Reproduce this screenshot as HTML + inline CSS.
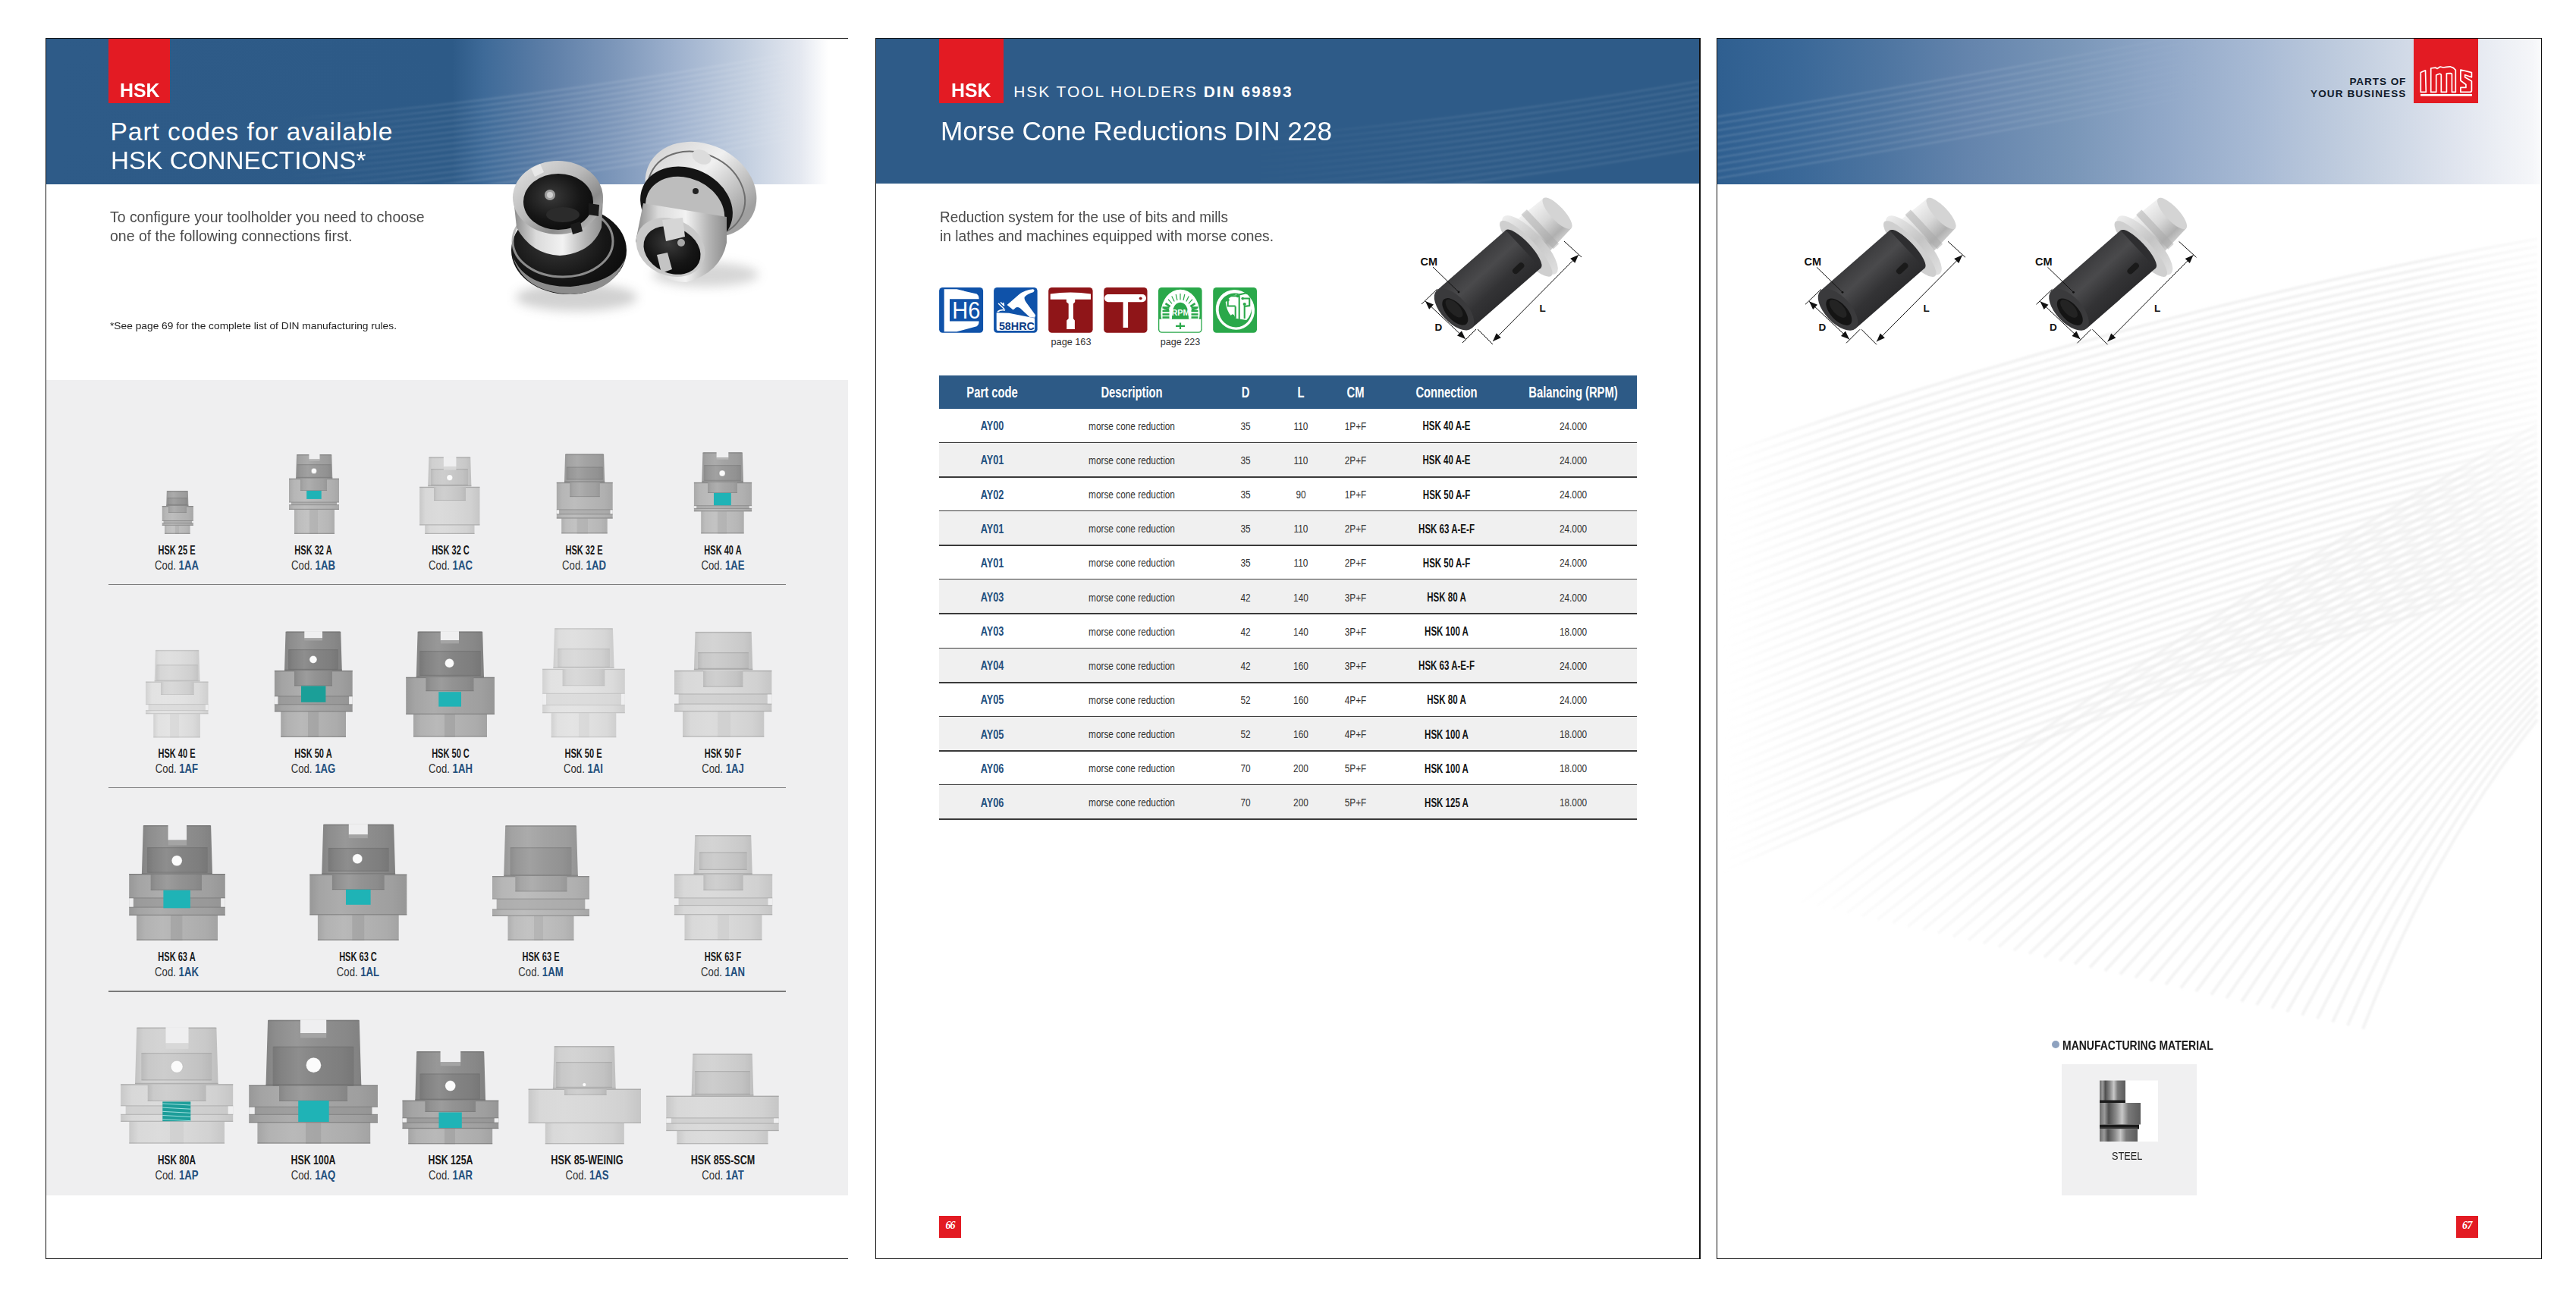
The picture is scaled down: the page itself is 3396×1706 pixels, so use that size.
<!DOCTYPE html>
<html><head><meta charset="utf-8"><title>HSK</title><style>
*{margin:0;padding:0;box-sizing:border-box}
html,body{width:3396px;height:1706px;overflow:hidden;background:#fff}
body{position:relative;font-family:"Liberation Sans",sans-serif}
.r{position:absolute}
.t{position:absolute;white-space:nowrap;line-height:1}
svg{position:absolute;overflow:visible}
</style></head>
<body>
<div class="r" style="left:61px;top:51px;width:1057px;height:191.5px;background:linear-gradient(90deg,#2e5b88 0px,#2d5a87 535px,#3e6a98 577px,#5e7fa8 664px,#7d97ba 750px,#a0b3cf 836px,#c3cfe0 922px,#e4e8f0 994px,#fff 1031px);"></div>
<div class="r" style="left:61px;top:500.5px;width:1057px;height:1075px;background:#efeff0;"></div>
<div class="r" style="left:142.5px;top:770.0px;width:893.5px;height:1.2px;background:#7a7a7a;"></div>
<div class="r" style="left:142.5px;top:1037.6px;width:893.5px;height:1.2px;background:#7a7a7a;"></div>
<div class="r" style="left:142.5px;top:1306.4px;width:893.5px;height:1.2px;background:#7a7a7a;"></div>
<div class="r" style="left:143px;top:50px;width:80.5px;height:85.7px;background:#e31b23;"></div>
<div class="r" style="left:60px;top:50px;width:1058px;height:1px;background:#111;"></div>
<div class="r" style="left:60px;top:1659px;width:1058px;height:1px;background:#111;"></div>
<div class="r" style="left:60px;top:50px;width:1px;height:1610px;background:#111;"></div>
<div class="r" style="left:1155px;top:51px;width:1085px;height:191px;background:#2e5b88;"></div>
<div class="r" style="left:1238px;top:50px;width:84.5px;height:86px;background:#e31b23;"></div>
<div class="r" style="left:1238.0px;top:495.0px;width:919.6999999999998px;height:43.60000000000002px;background:#2d5a86;"></div>
<div class="r" style="left:1238.0px;top:583px;width:919.6999999999998px;height:2px;background:#3a3a3a;"></div>
<div class="r" style="left:1238.0px;top:583.75px;width:919.6999999999998px;height:45.15px;background:#f0f0f0;"></div>
<div class="r" style="left:1238.0px;top:628px;width:919.6999999999998px;height:2px;background:#3a3a3a;"></div>
<div class="r" style="left:1238.0px;top:673px;width:919.6999999999998px;height:2px;background:#3a3a3a;"></div>
<div class="r" style="left:1238.0px;top:674.05px;width:919.6999999999998px;height:45.15px;background:#f0f0f0;"></div>
<div class="r" style="left:1238.0px;top:718px;width:919.6999999999998px;height:2px;background:#3a3a3a;"></div>
<div class="r" style="left:1238.0px;top:763px;width:919.6999999999998px;height:2px;background:#3a3a3a;"></div>
<div class="r" style="left:1238.0px;top:764.35px;width:919.6999999999998px;height:45.15px;background:#f0f0f0;"></div>
<div class="r" style="left:1238.0px;top:808px;width:919.6999999999998px;height:2px;background:#3a3a3a;"></div>
<div class="r" style="left:1238.0px;top:854px;width:919.6999999999998px;height:2px;background:#3a3a3a;"></div>
<div class="r" style="left:1238.0px;top:854.6500000000001px;width:919.6999999999998px;height:45.15px;background:#f0f0f0;"></div>
<div class="r" style="left:1238.0px;top:899px;width:919.6999999999998px;height:2px;background:#3a3a3a;"></div>
<div class="r" style="left:1238.0px;top:944px;width:919.6999999999998px;height:2px;background:#3a3a3a;"></div>
<div class="r" style="left:1238.0px;top:944.95px;width:919.6999999999998px;height:45.15px;background:#f0f0f0;"></div>
<div class="r" style="left:1238.0px;top:989px;width:919.6999999999998px;height:2px;background:#3a3a3a;"></div>
<div class="r" style="left:1238.0px;top:1034px;width:919.6999999999998px;height:2px;background:#3a3a3a;"></div>
<div class="r" style="left:1238.0px;top:1035.25px;width:919.6999999999998px;height:45.15px;background:#f0f0f0;"></div>
<div class="r" style="left:1238.0px;top:1079px;width:919.6999999999998px;height:2px;background:#3a3a3a;"></div>
<div class="r" style="left:1238.2px;top:1603.2px;width:28.6px;height:28.6px;background:#e31b23;"></div>
<div class="t" style="left:1238.2px;top:1609px;width:28.6px;text-align:center;font-family:'Liberation Serif',serif;font-size:14px;line-height:1;color:#fff;font-weight:700;font-style:italic;letter-spacing:-1px">66</div>
<div class="r" style="left:1154px;top:50px;width:1087px;height:1px;background:#111;"></div>
<div class="r" style="left:1154px;top:1659px;width:1087px;height:1px;background:#111;"></div>
<div class="r" style="left:1154px;top:50px;width:1px;height:1610px;background:#111;"></div>
<div class="r" style="left:2239.8px;top:50px;width:2px;height:1610px;background:#111;"></div>
<div class="r" style="left:2264px;top:51px;width:1086px;height:191.5px;background:linear-gradient(90deg,#2f5f90 0px,#3a6898 105px,#4c74a0 211px,#6585ad 337px,#7996b8 464px,#91a8c8 590px,#a9bbd5 717px,#c3cfe0 843px,#dfe4ee 970px,#f5f6f9 1075px,#fafbfc 1086px);"></div>
<div class="r" style="left:3182px;top:50px;width:85px;height:85.7px;background:#e31b23;"></div>
<div class="r" style="left:3238px;top:1603.2px;width:28.8px;height:28.6px;background:#e31b23;"></div>
<div class="t" style="left:3238px;top:1609px;width:28.8px;text-align:center;font-family:'Liberation Serif',serif;font-size:14px;line-height:1;color:#fff;font-weight:700;font-style:italic;letter-spacing:-0.5px">67</div>
<div class="r" style="left:2718px;top:1402.8px;width:178px;height:173px;background:#f0f0f1;"></div>
<div class="r" style="left:2704.7px;top:1371.9px;width:10px;height:10px;border-radius:50%;background:#8ea2bf"></div>
<div class="r" style="left:2263px;top:50px;width:1088px;height:1px;background:#111;"></div>
<div class="r" style="left:2263px;top:1659px;width:1088px;height:1px;background:#111;"></div>
<div class="r" style="left:2263px;top:50px;width:1px;height:1610px;background:#111;"></div>
<div class="r" style="left:3350px;top:50px;width:1.2px;height:1610px;background:#111;"></div>
<svg style="left:0;top:0" width="3396" height="1706" viewBox="0 0 3396 1706"><defs><clipPath id="h1c"><rect x="61" y="51" width="1057" height="191.5"/></clipPath><clipPath id="h2c"><rect x="1155" y="51" width="1085" height="191"/></clipPath><clipPath id="h3c"><rect x="2264" y="51" width="1086" height="191.5"/></clipPath><filter id="sblur" x="0" y="0" width="3396" height="1706" filterUnits="userSpaceOnUse"><feGaussianBlur stdDeviation="1.2"/></filter><linearGradient id="sg1" gradientUnits="userSpaceOnUse" x1="380" y1="0" x2="1060" y2="0"><stop offset="0" stop-color="#fff" stop-opacity="0"/><stop offset="0.4" stop-color="#fff" stop-opacity="0.11"/><stop offset="0.85" stop-color="#fff" stop-opacity="0.10"/><stop offset="1" stop-color="#fff" stop-opacity="0"/></linearGradient><linearGradient id="sg2" gradientUnits="userSpaceOnUse" x1="1650" y1="0" x2="2240" y2="0"><stop offset="0" stop-color="#fff" stop-opacity="0"/><stop offset="0.5" stop-color="#fff" stop-opacity="0.07"/><stop offset="1" stop-color="#fff" stop-opacity="0.07"/></linearGradient><linearGradient id="sg3" gradientUnits="userSpaceOnUse" x1="2264" y1="0" x2="2900" y2="0"><stop offset="0" stop-color="#fff" stop-opacity="0.12"/><stop offset="0.6" stop-color="#fff" stop-opacity="0.10"/><stop offset="1" stop-color="#fff" stop-opacity="0"/></linearGradient></defs><g clip-path="url(#h1c)"><g filter="url(#sblur)" fill="none" stroke="url(#sg1)" stroke-width="3"><path d="M380,270.0 Q700,245.0 1060,180.0"/><path d="M380,262.5 Q700,237.5 1060,172.5"/><path d="M380,255.0 Q700,230.0 1060,165.0"/><path d="M380,247.5 Q700,222.5 1060,157.5"/><path d="M380,240.0 Q700,215.0 1060,150.0"/><path d="M380,232.5 Q700,207.5 1060,142.5"/><path d="M380,225.0 Q700,200.0 1060,135.0"/><path d="M380,217.5 Q700,192.5 1060,127.5"/><path d="M380,210.0 Q700,185.0 1060,120.0"/><path d="M380,202.5 Q700,177.5 1060,112.5"/><path d="M380,195.0 Q700,170.0 1060,105.0"/><path d="M380,187.5 Q700,162.5 1060,97.5"/><path d="M380,180.0 Q700,155.0 1060,90.0"/><path d="M380,172.5 Q700,147.5 1060,82.5"/><path d="M380,165.0 Q700,140.0 1060,75.0"/><path d="M380,157.5 Q700,132.5 1060,67.5"/></g></g><g clip-path="url(#h2c)"><g filter="url(#sblur)" fill="none" stroke="url(#sg2)" stroke-width="3"><path d="M1650,270.0 Q1950,245.0 2240,195.0"/><path d="M1650,262.0 Q1950,237.0 2240,187.0"/><path d="M1650,254.0 Q1950,229.0 2240,179.0"/><path d="M1650,246.0 Q1950,221.0 2240,171.0"/><path d="M1650,238.0 Q1950,213.0 2240,163.0"/><path d="M1650,230.0 Q1950,205.0 2240,155.0"/><path d="M1650,222.0 Q1950,197.0 2240,147.0"/><path d="M1650,214.0 Q1950,189.0 2240,139.0"/><path d="M1650,206.0 Q1950,181.0 2240,131.0"/><path d="M1650,198.0 Q1950,173.0 2240,123.0"/><path d="M1650,190.0 Q1950,165.0 2240,115.0"/><path d="M1650,182.0 Q1950,157.0 2240,107.0"/></g></g><g clip-path="url(#h3c)"><g filter="url(#sblur)" fill="none" stroke="url(#sg3)" stroke-width="2.5"><path d="M2264,235.0 Q2550,190.0 2900,125.0"/><path d="M2264,226.0 Q2550,181.0 2900,116.0"/><path d="M2264,217.0 Q2550,172.0 2900,107.0"/><path d="M2264,208.0 Q2550,163.0 2900,98.0"/><path d="M2264,199.0 Q2550,154.0 2900,89.0"/><path d="M2264,190.0 Q2550,145.0 2900,80.0"/><path d="M2264,181.0 Q2550,136.0 2900,71.0"/><path d="M2264,172.0 Q2550,127.0 2900,62.0"/><path d="M2264,163.0 Q2550,118.0 2900,53.0"/><path d="M2264,154.0 Q2550,109.0 2900,44.0"/></g></g></svg><svg style="left:0;top:0" width="3396" height="1706" viewBox="0 0 3396 1706"><defs><clipPath id="p3clip"><rect x="2264" y="243" width="1085" height="1150"/></clipPath><linearGradient id="wfa" gradientUnits="userSpaceOnUse" x1="2270" y1="0" x2="3345" y2="0"><stop offset="0" stop-color="#ececec" stop-opacity="0"/><stop offset="0.15" stop-color="#ececec" stop-opacity="0.6"/><stop offset="0.85" stop-color="#ececec" stop-opacity="0.65"/><stop offset="1" stop-color="#ececec" stop-opacity="0.2"/></linearGradient><linearGradient id="wfb" gradientUnits="userSpaceOnUse" x1="2380" y1="1250" x2="3345" y2="600"><stop offset="0" stop-color="#ececec" stop-opacity="0"/><stop offset="0.25" stop-color="#ececec" stop-opacity="0.6"/><stop offset="0.9" stop-color="#ececec" stop-opacity="0.6"/><stop offset="1" stop-color="#ececec" stop-opacity="0.3"/></linearGradient><filter id="wblur" x="-5%" y="-5%" width="110%" height="110%"><feGaussianBlur stdDeviation="1.3"/></filter></defs><g clip-path="url(#p3clip)"><g filter="url(#wblur)" fill="none" stroke-width="4.2"><path d="M2270,600.0 Q2800,412.5 3345,315.0" stroke="url(#wfa)"/><path d="M2270,612.2 Q2800,423.6 3345,325.0" stroke="url(#wfa)"/><path d="M2270,624.4 Q2800,434.7 3345,335.0" stroke="url(#wfa)"/><path d="M2270,636.6 Q2800,445.8 3345,345.0" stroke="url(#wfa)"/><path d="M2270,648.8 Q2800,456.9 3345,355.0" stroke="url(#wfa)"/><path d="M2270,661.0 Q2800,468.0 3345,365.0" stroke="url(#wfa)"/><path d="M2270,673.2 Q2800,479.1 3345,375.0" stroke="url(#wfa)"/><path d="M2270,685.4 Q2800,490.2 3345,385.0" stroke="url(#wfa)"/><path d="M2270,697.6 Q2800,501.3 3345,395.0" stroke="url(#wfa)"/><path d="M2270,709.8 Q2800,512.4 3345,405.0" stroke="url(#wfa)"/><path d="M2270,722.0 Q2800,523.5 3345,415.0" stroke="url(#wfa)"/><path d="M2270,734.2 Q2800,534.6 3345,425.0" stroke="url(#wfa)"/><path d="M2270,746.4 Q2800,545.7 3345,435.0" stroke="url(#wfa)"/><path d="M2270,758.6 Q2800,556.8 3345,445.0" stroke="url(#wfa)"/><path d="M2270,770.8 Q2800,567.9 3345,455.0" stroke="url(#wfa)"/><path d="M2270,783.0 Q2800,579.0 3345,465.0" stroke="url(#wfa)"/><path d="M2270,795.2 Q2800,590.1 3345,475.0" stroke="url(#wfa)"/><path d="M2270,807.4 Q2800,601.2 3345,485.0" stroke="url(#wfa)"/><path d="M2270,819.6 Q2800,612.3 3345,495.0" stroke="url(#wfa)"/><path d="M2270,831.8 Q2800,623.4 3345,505.0" stroke="url(#wfa)"/><path d="M2270,844.0 Q2800,634.5 3345,515.0" stroke="url(#wfa)"/><path d="M2270,856.2 Q2800,645.6 3345,525.0" stroke="url(#wfa)"/><path d="M2270,868.4 Q2800,656.7 3345,535.0" stroke="url(#wfa)"/><path d="M2270,880.6 Q2800,667.8 3345,545.0" stroke="url(#wfa)"/><path d="M2270,892.8 Q2800,678.9 3345,555.0" stroke="url(#wfa)"/><path d="M2270,905.0 Q2800,690.0 3345,565.0" stroke="url(#wfa)"/><path d="M2270,917.2 Q2800,701.1 3345,575.0" stroke="url(#wfa)"/><path d="M2270,929.4 Q2800,712.2 3345,585.0" stroke="url(#wfa)"/><path d="M2270,941.6 Q2800,723.3 3345,595.0" stroke="url(#wfa)"/><path d="M2270,953.8 Q2800,734.4 3345,605.0" stroke="url(#wfa)"/><path d="M2270,966.0 Q2800,745.5 3345,615.0" stroke="url(#wfa)"/><path d="M2270,978.2 Q2800,756.6 3345,625.0" stroke="url(#wfa)"/><path d="M2270,990.4 Q2800,767.7 3345,635.0" stroke="url(#wfa)"/><path d="M2270,1002.6 Q2800,778.8 3345,645.0" stroke="url(#wfa)"/><path d="M2270,1014.8 Q2800,789.9 3345,655.0" stroke="url(#wfa)"/><path d="M2270,1027.0 Q2800,801.0 3345,665.0" stroke="url(#wfa)"/><path d="M2270,1039.2 Q2800,812.1 3345,675.0" stroke="url(#wfa)"/><path d="M2270,1051.4 Q2800,823.2 3345,685.0" stroke="url(#wfa)"/><path d="M2270,1063.6 Q2800,834.3 3345,695.0" stroke="url(#wfa)"/><path d="M2270,1075.8 Q2800,845.4 3345,705.0" stroke="url(#wfa)"/><path d="M2270,1088.0 Q2800,856.5 3345,715.0" stroke="url(#wfa)"/><path d="M2270,1100.2 Q2800,867.6 3345,725.0" stroke="url(#wfa)"/><path d="M2270,1112.4 Q2800,878.7 3345,735.0" stroke="url(#wfa)"/><path d="M2270,1124.6 Q2800,889.8 3345,745.0" stroke="url(#wfa)"/><path d="M2270,1136.8 Q2800,900.9 3345,755.0" stroke="url(#wfa)"/><path d="M2270,1149.0 Q2800,912.0 3345,765.0" stroke="url(#wfa)"/><path d="M2375.0,1190.0 Q2835.0,845.0 3345,560.0" stroke="url(#wfb)"/><path d="M2395.0,1194.5 Q2845.0,852.5 3345,570.5" stroke="url(#wfb)"/><path d="M2415.0,1199.0 Q2855.0,860.0 3345,581.0" stroke="url(#wfb)"/><path d="M2435.0,1203.5 Q2865.0,867.5 3345,591.5" stroke="url(#wfb)"/><path d="M2455.0,1208.0 Q2875.0,875.0 3345,602.0" stroke="url(#wfb)"/><path d="M2475.0,1212.5 Q2885.0,882.5 3345,612.5" stroke="url(#wfb)"/><path d="M2495.0,1217.0 Q2895.0,890.0 3345,623.0" stroke="url(#wfb)"/><path d="M2515.0,1221.5 Q2905.0,897.5 3345,633.5" stroke="url(#wfb)"/><path d="M2535.0,1226.0 Q2915.0,905.0 3345,644.0" stroke="url(#wfb)"/><path d="M2555.0,1230.5 Q2925.0,912.5 3345,654.5" stroke="url(#wfb)"/><path d="M2575.0,1235.0 Q2935.0,920.0 3345,665.0" stroke="url(#wfb)"/><path d="M2595.0,1239.5 Q2945.0,927.5 3345,675.5" stroke="url(#wfb)"/><path d="M2615.0,1244.0 Q2955.0,935.0 3345,686.0" stroke="url(#wfb)"/><path d="M2635.0,1248.5 Q2965.0,942.5 3345,696.5" stroke="url(#wfb)"/><path d="M2655.0,1253.0 Q2975.0,950.0 3345,707.0" stroke="url(#wfb)"/><path d="M2675.0,1257.5 Q2985.0,957.5 3345,717.5" stroke="url(#wfb)"/><path d="M2695.0,1262.0 Q2995.0,965.0 3345,728.0" stroke="url(#wfb)"/><path d="M2715.0,1266.5 Q3005.0,972.5 3345,738.5" stroke="url(#wfb)"/><path d="M2735.0,1271.0 Q3015.0,980.0 3345,749.0" stroke="url(#wfb)"/><path d="M2755.0,1275.5 Q3025.0,987.5 3345,759.5" stroke="url(#wfb)"/><path d="M2775.0,1280.0 Q3035.0,995.0 3345,770.0" stroke="url(#wfb)"/><path d="M2795.0,1284.5 Q3045.0,1002.5 3345,780.5" stroke="url(#wfb)"/><path d="M2815.0,1289.0 Q3055.0,1010.0 3345,791.0" stroke="url(#wfb)"/><path d="M2835.0,1293.5 Q3065.0,1017.5 3345,801.5" stroke="url(#wfb)"/><path d="M2855.0,1298.0 Q3075.0,1025.0 3345,812.0" stroke="url(#wfb)"/><path d="M2875.0,1302.5 Q3085.0,1032.5 3345,822.5" stroke="url(#wfb)"/><path d="M2895.0,1307.0 Q3095.0,1040.0 3345,833.0" stroke="url(#wfb)"/><path d="M2915.0,1311.5 Q3105.0,1047.5 3345,843.5" stroke="url(#wfb)"/><path d="M2935.0,1316.0 Q3115.0,1055.0 3345,854.0" stroke="url(#wfb)"/><path d="M2955.0,1320.5 Q3125.0,1062.5 3345,864.5" stroke="url(#wfb)"/><path d="M2975.0,1325.0 Q3135.0,1070.0 3345,875.0" stroke="url(#wfb)"/><path d="M2995.0,1329.5 Q3145.0,1077.5 3345,885.5" stroke="url(#wfb)"/><path d="M3015.0,1334.0 Q3155.0,1085.0 3345,896.0" stroke="url(#wfb)"/><path d="M3035.0,1338.5 Q3165.0,1092.5 3345,906.5" stroke="url(#wfb)"/><path d="M3055.0,1343.0 Q3175.0,1100.0 3345,917.0" stroke="url(#wfb)"/><path d="M3075.0,1347.5 Q3185.0,1107.5 3345,927.5" stroke="url(#wfb)"/><path d="M3095.0,1352.0 Q3195.0,1115.0 3345,938.0" stroke="url(#wfb)"/><path d="M3115.0,1356.5 Q3205.0,1122.5 3345,948.5" stroke="url(#wfb)"/></g></g></svg><svg style="left:0;top:0" width="3396" height="1706" viewBox="0 0 3396 1706"><defs><linearGradient id="g_dark_top" x1="0" x2="1" y1="0" y2="0"><stop offset="0" stop-color="#838383"/><stop offset="0.1" stop-color="#8d8d8d"/><stop offset="0.32" stop-color="#989898"/><stop offset="0.55" stop-color="#8f8f8f"/><stop offset="0.85" stop-color="#888888"/><stop offset="1" stop-color="#818181"/></linearGradient><linearGradient id="g_dark_band" x1="0" x2="1" y1="0" y2="0"><stop offset="0" stop-color="#787878"/><stop offset="0.1" stop-color="#828282"/><stop offset="0.32" stop-color="#8e8e8e"/><stop offset="0.55" stop-color="#848484"/><stop offset="0.85" stop-color="#7e7e7e"/><stop offset="1" stop-color="#777777"/></linearGradient><linearGradient id="g_dark_fl" x1="0" x2="1" y1="0" y2="0"><stop offset="0" stop-color="#989898"/><stop offset="0.1" stop-color="#a4a4a4"/><stop offset="0.32" stop-color="#adadad"/><stop offset="0.55" stop-color="#a5a5a5"/><stop offset="0.85" stop-color="#9f9f9f"/><stop offset="1" stop-color="#969696"/></linearGradient><linearGradient id="g_dark_inner" x1="0" x2="1" y1="0" y2="0"><stop offset="0" stop-color="#868686"/><stop offset="0.1" stop-color="#919191"/><stop offset="0.32" stop-color="#9c9c9c"/><stop offset="0.55" stop-color="#939393"/><stop offset="0.85" stop-color="#8c8c8c"/><stop offset="1" stop-color="#858585"/></linearGradient><linearGradient id="g_dark_bot" x1="0" x2="1" y1="0" y2="0"><stop offset="0" stop-color="#a5a5a5"/><stop offset="0.1" stop-color="#b2b2b2"/><stop offset="0.32" stop-color="#b9b9b9"/><stop offset="0.55" stop-color="#b3b3b3"/><stop offset="0.85" stop-color="#acacac"/><stop offset="1" stop-color="#a3a3a3"/></linearGradient><linearGradient id="g_mid_top" x1="0" x2="1" y1="0" y2="0"><stop offset="0" stop-color="#969696"/><stop offset="0.1" stop-color="#a2a2a2"/><stop offset="0.32" stop-color="#ababab"/><stop offset="0.55" stop-color="#a3a3a3"/><stop offset="0.85" stop-color="#9d9d9d"/><stop offset="1" stop-color="#959595"/></linearGradient><linearGradient id="g_mid_band" x1="0" x2="1" y1="0" y2="0"><stop offset="0" stop-color="#8c8c8c"/><stop offset="0.1" stop-color="#979797"/><stop offset="0.32" stop-color="#a1a1a1"/><stop offset="0.55" stop-color="#999999"/><stop offset="0.85" stop-color="#929292"/><stop offset="1" stop-color="#8a8a8a"/></linearGradient><linearGradient id="g_mid_fl" x1="0" x2="1" y1="0" y2="0"><stop offset="0" stop-color="#a9a9a9"/><stop offset="0.1" stop-color="#b6b6b6"/><stop offset="0.32" stop-color="#bdbdbd"/><stop offset="0.55" stop-color="#b7b7b7"/><stop offset="0.85" stop-color="#b0b0b0"/><stop offset="1" stop-color="#a7a7a7"/></linearGradient><linearGradient id="g_mid_inner" x1="0" x2="1" y1="0" y2="0"><stop offset="0" stop-color="#999999"/><stop offset="0.1" stop-color="#a5a5a5"/><stop offset="0.32" stop-color="#aeaeae"/><stop offset="0.55" stop-color="#a6a6a6"/><stop offset="0.85" stop-color="#a0a0a0"/><stop offset="1" stop-color="#979797"/></linearGradient><linearGradient id="g_mid_bot" x1="0" x2="1" y1="0" y2="0"><stop offset="0" stop-color="#afafaf"/><stop offset="0.1" stop-color="#bdbdbd"/><stop offset="0.32" stop-color="#c3c3c3"/><stop offset="0.55" stop-color="#bebebe"/><stop offset="0.85" stop-color="#b7b7b7"/><stop offset="1" stop-color="#adadad"/></linearGradient><linearGradient id="g_light_top" x1="0" x2="1" y1="0" y2="0"><stop offset="0" stop-color="#c1c1c1"/><stop offset="0.1" stop-color="#d0d0d0"/><stop offset="0.32" stop-color="#d4d4d4"/><stop offset="0.55" stop-color="#d0d0d0"/><stop offset="0.85" stop-color="#c9c9c9"/><stop offset="1" stop-color="#bfbfbf"/></linearGradient><linearGradient id="g_light_band" x1="0" x2="1" y1="0" y2="0"><stop offset="0" stop-color="#bababa"/><stop offset="0.1" stop-color="#c8c8c8"/><stop offset="0.32" stop-color="#cdcdcd"/><stop offset="0.55" stop-color="#c9c9c9"/><stop offset="0.85" stop-color="#c2c2c2"/><stop offset="1" stop-color="#b8b8b8"/></linearGradient><linearGradient id="g_light_fl" x1="0" x2="1" y1="0" y2="0"><stop offset="0" stop-color="#c8c8c8"/><stop offset="0.1" stop-color="#d8d8d8"/><stop offset="0.32" stop-color="#dbdbdb"/><stop offset="0.55" stop-color="#d8d8d8"/><stop offset="0.85" stop-color="#d1d1d1"/><stop offset="1" stop-color="#c6c6c6"/></linearGradient><linearGradient id="g_light_inner" x1="0" x2="1" y1="0" y2="0"><stop offset="0" stop-color="#bbbbbb"/><stop offset="0.1" stop-color="#cacaca"/><stop offset="0.32" stop-color="#cfcfcf"/><stop offset="0.55" stop-color="#cbcbcb"/><stop offset="0.85" stop-color="#c3c3c3"/><stop offset="1" stop-color="#b9b9b9"/></linearGradient><linearGradient id="g_light_bot" x1="0" x2="1" y1="0" y2="0"><stop offset="0" stop-color="#c9c9c9"/><stop offset="0.1" stop-color="#d9d9d9"/><stop offset="0.32" stop-color="#dcdcdc"/><stop offset="0.55" stop-color="#d9d9d9"/><stop offset="0.85" stop-color="#d2d2d2"/><stop offset="1" stop-color="#c7c7c7"/></linearGradient><linearGradient id="g_vlight_top" x1="0" x2="1" y1="0" y2="0"><stop offset="0" stop-color="#cdcdcd"/><stop offset="0.1" stop-color="#dddddd"/><stop offset="0.32" stop-color="#e0e0e0"/><stop offset="0.55" stop-color="#dddddd"/><stop offset="0.85" stop-color="#d6d6d6"/><stop offset="1" stop-color="#cbcbcb"/></linearGradient><linearGradient id="g_vlight_band" x1="0" x2="1" y1="0" y2="0"><stop offset="0" stop-color="#c7c7c7"/><stop offset="0.1" stop-color="#d6d6d6"/><stop offset="0.32" stop-color="#dadada"/><stop offset="0.55" stop-color="#d6d6d6"/><stop offset="0.85" stop-color="#cfcfcf"/><stop offset="1" stop-color="#c4c4c4"/></linearGradient><linearGradient id="g_vlight_fl" x1="0" x2="1" y1="0" y2="0"><stop offset="0" stop-color="#d2d2d2"/><stop offset="0.1" stop-color="#e2e2e2"/><stop offset="0.32" stop-color="#e4e4e4"/><stop offset="0.55" stop-color="#e2e2e2"/><stop offset="0.85" stop-color="#dbdbdb"/><stop offset="1" stop-color="#cfcfcf"/></linearGradient><linearGradient id="g_vlight_inner" x1="0" x2="1" y1="0" y2="0"><stop offset="0" stop-color="#c6c6c6"/><stop offset="0.1" stop-color="#d5d5d5"/><stop offset="0.32" stop-color="#d9d9d9"/><stop offset="0.55" stop-color="#d5d5d5"/><stop offset="0.85" stop-color="#cecece"/><stop offset="1" stop-color="#c3c3c3"/></linearGradient><linearGradient id="g_vlight_bot" x1="0" x2="1" y1="0" y2="0"><stop offset="0" stop-color="#d1d1d1"/><stop offset="0.1" stop-color="#e1e1e1"/><stop offset="0.32" stop-color="#e4e4e4"/><stop offset="0.55" stop-color="#e1e1e1"/><stop offset="0.85" stop-color="#dadada"/><stop offset="1" stop-color="#cfcfcf"/></linearGradient></defs><rect x="217" y="692" width="33.599999999999994" height="11.899999999999977" fill="url(#g_mid_bot)"/><rect x="231" y="667" width="5" height="36.89999999999998" fill="#ababab" opacity="0.55"/><rect x="217" y="702.6999999999999" width="33.599999999999994" height="1.2" fill="#7c7c7c" opacity="0.6"/><rect x="213.8" y="667" width="41.099999999999994" height="26" fill="url(#g_mid_fl)"/><rect x="213.8" y="667" width="41.099999999999994" height="1.3" fill="#7c7c7c" opacity="0.7"/><rect x="213.8" y="691.8" width="41.099999999999994" height="1.2" fill="#7c7c7c" opacity="0.6"/><rect x="213.8" y="686.6" width="1.8494999999999997" height="3.199999999999932" fill="#efeff0"/><rect x="253.0505" y="686.6" width="1.8494999999999997" height="3.199999999999932" fill="#efeff0"/><rect x="215.64950000000002" y="686.6" width="37.400999999999996" height="3.199999999999932" fill="#a5a5a5" opacity="0.5"/><rect x="213.8" y="686.0" width="41.099999999999994" height="1" fill="#7c7c7c" opacity="0.6"/><rect x="213.8" y="689.4" width="41.099999999999994" height="1" fill="#7c7c7c" opacity="0.6"/><rect x="222" y="667" width="24" height="9" fill="url(#g_mid_inner)"/><rect x="222" y="675" width="24" height="1" fill="#7c7c7c" opacity="0.5"/><path d="M221.284,647 L246.316,647 Q247.816,647 247.816,648.5 L248.4,667 L219.2,667 L219.784,648.5 Q219.784,647 221.284,647 Z" fill="url(#g_mid_top)"/><rect x="219.784" y="647" width="28.032000000000018" height="1.5" fill="#7c7c7c" opacity="0.55"/><rect x="220.5" y="656" width="26.5" height="10" rx="2" fill="url(#g_mid_band)"/><rect x="220.5" y="656" width="26.5" height="1.2" fill="#7c7c7c" opacity="0.5"/><rect x="220.5" y="664.8" width="26.5" height="1.2" fill="#7c7c7c" opacity="0.5"/><rect x="219.2" y="665.5" width="29.200000000000017" height="1.5" fill="#7c7c7c" opacity="0.6"/><rect x="388" y="671" width="53" height="32.89999999999998" fill="url(#g_mid_bot)"/><rect x="408" y="630.8" width="11" height="73.10000000000002" fill="#ababab" opacity="0.55"/><rect x="388" y="702.6999999999999" width="53" height="1.2" fill="#7c7c7c" opacity="0.6"/><rect x="381" y="630.8" width="66" height="41.200000000000045" fill="url(#g_mid_fl)"/><rect x="381" y="630.8" width="66" height="1.3" fill="#7c7c7c" opacity="0.7"/><rect x="381" y="670.8" width="66" height="1.2" fill="#7c7c7c" opacity="0.6"/><rect x="381" y="662.2" width="2.9699999999999998" height="3.2999999999999545" fill="#efeff0"/><rect x="444.03" y="662.2" width="2.9699999999999998" height="3.2999999999999545" fill="#efeff0"/><rect x="383.97" y="662.2" width="60.06" height="3.2999999999999545" fill="#a5a5a5" opacity="0.5"/><rect x="381" y="661.6" width="66" height="1" fill="#7c7c7c" opacity="0.6"/><rect x="381" y="665.1" width="66" height="1" fill="#7c7c7c" opacity="0.6"/><rect x="396" y="630.8" width="35" height="16.200000000000045" fill="url(#g_mid_inner)"/><rect x="396" y="646" width="35" height="1" fill="#7c7c7c" opacity="0.5"/><rect x="404.2" y="647" width="19.5" height="10.899999999999977" fill="#1fb3b6"/><path d="M392.466,599 L435.834,599 Q437.334,599 437.334,600.5 L438.3,630.8 L390,630.8 L390.966,600.5 Q390.966,599 392.466,599 Z" fill="url(#g_mid_top)"/><rect x="390.966" y="599" width="46.36800000000001" height="1.5" fill="#7c7c7c" opacity="0.55"/><rect x="391.5" y="612" width="45.5" height="18" rx="2" fill="url(#g_mid_band)"/><rect x="391.5" y="612" width="45.5" height="1.2" fill="#7c7c7c" opacity="0.5"/><rect x="391.5" y="628.8" width="45.5" height="1.2" fill="#7c7c7c" opacity="0.5"/><rect x="390" y="629.3" width="48.30000000000001" height="1.5" fill="#7c7c7c" opacity="0.6"/><rect x="407.4" y="598.5" width="14.100000000000023" height="6.899999999999977" fill="#efeff0"/><rect x="407.4" y="605.4" width="14.100000000000023" height="2.2399999999999918" fill="#b6b6b6"/><circle cx="413.9" cy="620.9" r="3.6" fill="#fbfbfb" stroke="#7c7c7c" stroke-width="0.6" stroke-opacity="0.5"/><rect x="560.2" y="691.5" width="65.29999999999995" height="12.5" fill="url(#g_light_bot)"/><rect x="560.2" y="702.8" width="65.29999999999995" height="1.2" fill="#9a9a9a" opacity="0.6"/><rect x="553.1" y="641.8" width="79.39999999999998" height="50.700000000000045" fill="url(#g_light_fl)"/><rect x="553.1" y="641.8" width="79.39999999999998" height="1.3" fill="#9a9a9a" opacity="0.7"/><rect x="553.1" y="691.3" width="79.39999999999998" height="1.2" fill="#9a9a9a" opacity="0.6"/><rect x="572" y="641.8" width="42" height="18.200000000000045" fill="url(#g_light_inner)"/><rect x="572" y="659" width="42" height="1" fill="#9a9a9a" opacity="0.5"/><path d="M566.844,602.6 L618.756,602.6 Q620.256,602.6 620.256,604.1 L621.4,641.3 L564.2,641.3 L565.344,604.1 Q565.344,602.6 566.844,602.6 Z" fill="url(#g_light_top)"/><rect x="565.344" y="602.6" width="54.911999999999935" height="1.5" fill="#9a9a9a" opacity="0.55"/><rect x="568" y="618" width="49" height="22" rx="2" fill="url(#g_light_band)"/><rect x="568" y="618" width="49" height="1.2" fill="#9a9a9a" opacity="0.5"/><rect x="568" y="638.8" width="49" height="1.2" fill="#9a9a9a" opacity="0.5"/><rect x="564.2" y="639.8" width="57.19999999999993" height="1.5" fill="#9a9a9a" opacity="0.6"/><rect x="584.8" y="602.1" width="16.600000000000023" height="13.100000000000023" fill="#efeff0"/><rect x="584.8" y="615.2" width="16.600000000000023" height="4.410000000000007" fill="#d8d8d8"/><circle cx="592.8" cy="629.7" r="4" fill="#fbfbfb" stroke="#9a9a9a" stroke-width="0.6" stroke-opacity="0.5"/><rect x="740.2" y="682.6" width="60.5" height="20.799999999999955" fill="url(#g_mid_bot)"/><rect x="760.6" y="635.9" width="14.399999999999977" height="67.5" fill="#ababab" opacity="0.55"/><rect x="740.2" y="702.1999999999999" width="60.5" height="1.2" fill="#7c7c7c" opacity="0.6"/><rect x="733.8" y="635.9" width="73.90000000000009" height="47.700000000000045" fill="url(#g_mid_fl)"/><rect x="733.8" y="635.9" width="73.90000000000009" height="1.3" fill="#7c7c7c" opacity="0.7"/><rect x="733.8" y="682.4" width="73.90000000000009" height="1.2" fill="#7c7c7c" opacity="0.6"/><rect x="733.8" y="672" width="3.325500000000004" height="5.7999999999999545" fill="#efeff0"/><rect x="804.3745" y="672" width="3.325500000000004" height="5.7999999999999545" fill="#efeff0"/><rect x="737.1255" y="672" width="67.24900000000008" height="5.7999999999999545" fill="#a5a5a5" opacity="0.5"/><rect x="733.8" y="671.4" width="73.90000000000009" height="1" fill="#7c7c7c" opacity="0.6"/><rect x="733.8" y="677.4" width="73.90000000000009" height="1" fill="#7c7c7c" opacity="0.6"/><rect x="751.2" y="635.9" width="39.59999999999991" height="19.200000000000045" fill="url(#g_mid_inner)"/><rect x="751.2" y="654.1" width="39.59999999999991" height="1" fill="#7c7c7c" opacity="0.5"/><path d="M746.564,598.6 L794.6360000000001,598.6 Q796.1360000000001,598.6 796.1360000000001,600.1 L797.2,635.9 L744,635.9 L745.064,600.1 Q745.064,598.6 746.564,598.6 Z" fill="url(#g_mid_top)"/><rect x="745.064" y="598.6" width="51.072000000000045" height="1.5" fill="#7c7c7c" opacity="0.55"/><rect x="746.6" y="615.5" width="48.39999999999998" height="16.899999999999977" rx="2" fill="url(#g_mid_band)"/><rect x="746.6" y="615.5" width="48.39999999999998" height="1.2" fill="#7c7c7c" opacity="0.5"/><rect x="746.6" y="631.1999999999999" width="48.39999999999998" height="1.2" fill="#7c7c7c" opacity="0.5"/><rect x="744" y="634.4" width="53.200000000000045" height="1.5" fill="#7c7c7c" opacity="0.6"/><rect x="924.2" y="673.3" width="56.5" height="30.100000000000023" fill="url(#g_mid_bot)"/><rect x="946" y="635.9" width="12" height="67.5" fill="#ababab" opacity="0.55"/><rect x="924.2" y="702.1999999999999" width="56.5" height="1.2" fill="#7c7c7c" opacity="0.6"/><rect x="914.9" y="635.9" width="76.20000000000005" height="38.39999999999998" fill="url(#g_mid_fl)"/><rect x="914.9" y="635.9" width="76.20000000000005" height="1.3" fill="#7c7c7c" opacity="0.7"/><rect x="914.9" y="673.0999999999999" width="76.20000000000005" height="1.2" fill="#7c7c7c" opacity="0.6"/><rect x="914.9" y="666.8" width="3.429000000000002" height="3.5" fill="#efeff0"/><rect x="987.671" y="666.8" width="3.429000000000002" height="3.5" fill="#efeff0"/><rect x="918.329" y="666.8" width="69.34200000000004" height="3.5" fill="#a5a5a5" opacity="0.5"/><rect x="914.9" y="666.1999999999999" width="76.20000000000005" height="1" fill="#7c7c7c" opacity="0.6"/><rect x="914.9" y="669.9" width="76.20000000000005" height="1" fill="#7c7c7c" opacity="0.6"/><rect x="933" y="635.9" width="39" height="14.100000000000023" fill="url(#g_mid_inner)"/><rect x="933" y="649" width="39" height="1" fill="#7c7c7c" opacity="0.5"/><rect x="941" y="649.9" width="22.799999999999955" height="16.300000000000068" fill="#1fb3b6"/><path d="M927.894,596.3 L977.406,596.3 Q978.906,596.3 978.906,597.8 L980,635.9 L925.3,635.9 L926.394,597.8 Q926.394,596.3 927.894,596.3 Z" fill="url(#g_mid_top)"/><rect x="926.394" y="596.3" width="52.51200000000004" height="1.5" fill="#7c7c7c" opacity="0.55"/><rect x="928" y="613" width="49" height="21" rx="2" fill="url(#g_mid_band)"/><rect x="928" y="613" width="49" height="1.2" fill="#7c7c7c" opacity="0.5"/><rect x="928" y="632.8" width="49" height="1.2" fill="#7c7c7c" opacity="0.5"/><rect x="925.3" y="634.4" width="54.700000000000045" height="1.5" fill="#7c7c7c" opacity="0.6"/><rect x="944.6" y="595.8" width="15.699999999999932" height="7.5" fill="#efeff0"/><rect x="944.6" y="603.3" width="15.699999999999932" height="2.4499999999999997" fill="#b6b6b6"/><circle cx="952.1" cy="624" r="4" fill="#fbfbfb" stroke="#7c7c7c" stroke-width="0.6" stroke-opacity="0.5"/><rect x="202.3" y="940.3" width="61.599999999999966" height="32.10000000000002" fill="url(#g_vlight_bot)"/><rect x="224" y="898.6" width="12" height="73.79999999999995" fill="#d3d3d3" opacity="0.55"/><rect x="202.3" y="971.1999999999999" width="61.599999999999966" height="1.2" fill="#b5b5b5" opacity="0.6"/><rect x="192" y="898.6" width="82.5" height="42.69999999999993" fill="url(#g_vlight_fl)"/><rect x="192" y="898.6" width="82.5" height="1.3" fill="#b5b5b5" opacity="0.7"/><rect x="192" y="940.0999999999999" width="82.5" height="1.2" fill="#b5b5b5" opacity="0.6"/><rect x="192" y="928.7" width="3.7125" height="7.7999999999999545" fill="#efeff0"/><rect x="270.7875" y="928.7" width="3.7125" height="7.7999999999999545" fill="#efeff0"/><rect x="195.7125" y="928.7" width="75.075" height="7.7999999999999545" fill="#d5d5d5" opacity="0.5"/><rect x="192" y="928.1" width="82.5" height="1" fill="#b5b5b5" opacity="0.6"/><rect x="192" y="936.1" width="82.5" height="1" fill="#b5b5b5" opacity="0.6"/><rect x="212" y="898.6" width="43.69999999999999" height="17.399999999999977" fill="url(#g_vlight_inner)"/><rect x="212" y="915" width="43.69999999999999" height="1" fill="#b5b5b5" opacity="0.5"/><path d="M206.396,856.9 L260.804,856.9 Q262.304,856.9 262.304,858.4 L263.5,898.6 L203.7,898.6 L204.896,858.4 Q204.896,856.9 206.396,856.9 Z" fill="url(#g_vlight_top)"/><rect x="204.896" y="856.9" width="57.40800000000001" height="1.5" fill="#b5b5b5" opacity="0.55"/><rect x="206" y="876.3" width="55" height="21.300000000000068" rx="2" fill="url(#g_vlight_band)"/><rect x="206" y="876.3" width="55" height="1.2" fill="#b5b5b5" opacity="0.5"/><rect x="206" y="896.4" width="55" height="1.2" fill="#b5b5b5" opacity="0.5"/><rect x="203.7" y="897.1" width="59.80000000000001" height="1.5" fill="#b5b5b5" opacity="0.6"/><rect x="370.2" y="937.4" width="85.80000000000001" height="34.39999999999998" fill="url(#g_dark_bot)"/><rect x="406" y="884" width="14" height="87.79999999999995" fill="#9a9a9a" opacity="0.55"/><rect x="370.2" y="970.5999999999999" width="85.80000000000001" height="1.2" fill="#6e6e6e" opacity="0.6"/><rect x="361.9" y="884" width="102.80000000000001" height="54.39999999999998" fill="url(#g_dark_fl)"/><rect x="361.9" y="884" width="102.80000000000001" height="1.3" fill="#6e6e6e" opacity="0.7"/><rect x="361.9" y="937.1999999999999" width="102.80000000000001" height="1.2" fill="#6e6e6e" opacity="0.6"/><rect x="361.9" y="918" width="4.626" height="10.700000000000045" fill="#efeff0"/><rect x="460.074" y="918" width="4.626" height="10.700000000000045" fill="#efeff0"/><rect x="366.52599999999995" y="918" width="93.54800000000002" height="10.700000000000045" fill="#919191" opacity="0.5"/><rect x="361.9" y="917.4" width="102.80000000000001" height="1" fill="#6e6e6e" opacity="0.6"/><rect x="361.9" y="928.3000000000001" width="102.80000000000001" height="1" fill="#6e6e6e" opacity="0.6"/><rect x="388" y="884" width="50" height="20.399999999999977" fill="url(#g_dark_inner)"/><rect x="388" y="903.4" width="50" height="1" fill="#6e6e6e" opacity="0.5"/><rect x="397" y="904.4" width="32.39999999999998" height="21.399999999999977" fill="#1b9f98"/><path d="M378.016,832.6 L447.784,832.6 Q449.284,832.6 449.284,834.1 L450.8,884 L375,884 L376.516,834.1 Q376.516,832.6 378.016,832.6 Z" fill="url(#g_dark_top)"/><rect x="376.516" y="832.6" width="72.76800000000001" height="1.5" fill="#6e6e6e" opacity="0.55"/><rect x="380" y="856" width="66" height="27" rx="2" fill="url(#g_dark_band)"/><rect x="380" y="856" width="66" height="1.2" fill="#6e6e6e" opacity="0.5"/><rect x="380" y="881.8" width="66" height="1.2" fill="#6e6e6e" opacity="0.5"/><rect x="375" y="882.5" width="75.80000000000001" height="1.5" fill="#6e6e6e" opacity="0.6"/><rect x="401.3" y="832.1" width="23.69999999999999" height="9.299999999999955" fill="#efeff0"/><rect x="401.3" y="841.4" width="23.69999999999999" height="3.079999999999984" fill="#a4a4a4"/><circle cx="412.9" cy="869.5" r="5" fill="#fbfbfb" stroke="#6e6e6e" stroke-width="0.6" stroke-opacity="0.5"/><rect x="545" y="940.9" width="97" height="30.5" fill="url(#g_dark_bot)"/><rect x="586" y="892.8" width="14" height="78.60000000000002" fill="#9a9a9a" opacity="0.55"/><rect x="545" y="970.1999999999999" width="97" height="1.2" fill="#6e6e6e" opacity="0.6"/><rect x="535.2" y="892.8" width="116.79999999999995" height="49.10000000000002" fill="url(#g_dark_fl)"/><rect x="535.2" y="892.8" width="116.79999999999995" height="1.3" fill="#6e6e6e" opacity="0.7"/><rect x="535.2" y="940.6999999999999" width="116.79999999999995" height="1.2" fill="#6e6e6e" opacity="0.6"/><rect x="561.4" y="892.8" width="63.10000000000002" height="18.40000000000009" fill="url(#g_dark_inner)"/><rect x="561.4" y="910.2" width="63.10000000000002" height="1" fill="#6e6e6e" opacity="0.5"/><rect x="578.3" y="912.2" width="29.700000000000045" height="19.399999999999977" fill="#1fb3b6"/><path d="M552.084,832.6 L634.716,832.6 Q636.216,832.6 636.216,834.1 L638,892.8 L548.8,892.8 L550.584,834.1 Q550.584,832.6 552.084,832.6 Z" fill="url(#g_dark_top)"/><rect x="550.584" y="832.6" width="85.63200000000005" height="1.5" fill="#6e6e6e" opacity="0.55"/><rect x="553" y="858" width="81" height="33" rx="2" fill="url(#g_dark_band)"/><rect x="553" y="858" width="81" height="1.2" fill="#6e6e6e" opacity="0.5"/><rect x="553" y="889.8" width="81" height="1.2" fill="#6e6e6e" opacity="0.5"/><rect x="548.8" y="891.3" width="89.20000000000005" height="1.5" fill="#6e6e6e" opacity="0.6"/><rect x="580.8" y="832.1" width="24.200000000000045" height="12.199999999999932" fill="#efeff0"/><rect x="580.8" y="844.3" width="24.200000000000045" height="4.094999999999976" fill="#a4a4a4"/><circle cx="592.5" cy="874.3" r="6" fill="#fbfbfb" stroke="#6e6e6e" stroke-width="0.6" stroke-opacity="0.5"/><rect x="726.7" y="939.2" width="85.59999999999991" height="33.0" fill="url(#g_vlight_bot)"/><rect x="763" y="881.8" width="14" height="90.40000000000009" fill="#d3d3d3" opacity="0.55"/><rect x="726.7" y="971.0" width="85.59999999999991" height="1.2" fill="#b5b5b5" opacity="0.6"/><rect x="715.1" y="881.8" width="108.69999999999993" height="58.40000000000009" fill="url(#g_vlight_fl)"/><rect x="715.1" y="881.8" width="108.69999999999993" height="1.3" fill="#b5b5b5" opacity="0.7"/><rect x="715.1" y="939.0" width="108.69999999999993" height="1.2" fill="#b5b5b5" opacity="0.6"/><rect x="715.1" y="914.4" width="4.891499999999997" height="15.0" fill="#efeff0"/><rect x="818.9085" y="914.4" width="4.891499999999997" height="15.0" fill="#efeff0"/><rect x="719.9915" y="914.4" width="98.91699999999994" height="15.0" fill="#d5d5d5" opacity="0.5"/><rect x="715.1" y="913.8" width="108.69999999999993" height="1" fill="#b5b5b5" opacity="0.6"/><rect x="715.1" y="929.0" width="108.69999999999993" height="1" fill="#b5b5b5" opacity="0.6"/><rect x="741.6" y="881.8" width="55.69999999999993" height="22.40000000000009" fill="url(#g_vlight_inner)"/><rect x="741.6" y="903.2" width="55.69999999999993" height="1" fill="#b5b5b5" opacity="0.5"/><path d="M732.504,828.2 L806.496,828.2 Q807.996,828.2 807.996,829.7 L809.6,881.1 L729.4,881.1 L731.004,829.7 Q731.004,828.2 732.504,828.2 Z" fill="url(#g_vlight_top)"/><rect x="731.004" y="828.2" width="76.99200000000005" height="1.5" fill="#b5b5b5" opacity="0.55"/><rect x="735" y="855" width="69" height="25" rx="2" fill="url(#g_vlight_band)"/><rect x="735" y="855" width="69" height="1.2" fill="#b5b5b5" opacity="0.5"/><rect x="735" y="878.8" width="69" height="1.2" fill="#b5b5b5" opacity="0.5"/><rect x="729.4" y="879.6" width="80.20000000000005" height="1.5" fill="#b5b5b5" opacity="0.6"/><rect x="900" y="937.2" width="107.29999999999995" height="34.299999999999955" fill="url(#g_light_bot)"/><rect x="946" y="883.9" width="17" height="87.60000000000002" fill="#cbcbcb" opacity="0.55"/><rect x="900" y="970.3" width="107.29999999999995" height="1.2" fill="#9a9a9a" opacity="0.6"/><rect x="889" y="883.9" width="128.39999999999998" height="54.30000000000007" fill="url(#g_light_fl)"/><rect x="889" y="883.9" width="128.39999999999998" height="1.3" fill="#9a9a9a" opacity="0.7"/><rect x="889" y="937.0" width="128.39999999999998" height="1.2" fill="#9a9a9a" opacity="0.6"/><rect x="889" y="915.1" width="5.777999999999999" height="12.899999999999977" fill="#efeff0"/><rect x="1011.622" y="915.1" width="5.777999999999999" height="12.899999999999977" fill="#efeff0"/><rect x="894.778" y="915.1" width="116.84399999999998" height="12.899999999999977" fill="#cacaca" opacity="0.5"/><rect x="889" y="914.5" width="128.39999999999998" height="1" fill="#9a9a9a" opacity="0.6"/><rect x="889" y="927.6" width="128.39999999999998" height="1" fill="#9a9a9a" opacity="0.6"/><rect x="927.1" y="883.9" width="52.299999999999955" height="21.700000000000045" fill="url(#g_light_inner)"/><rect x="927.1" y="904.6" width="52.299999999999955" height="1" fill="#9a9a9a" opacity="0.5"/><path d="M917.948,832.9 L989.252,832.9 Q990.752,832.9 990.752,834.4 L992.3,883.2 L914.9,883.2 L916.448,834.4 Q916.448,832.9 917.948,832.9 Z" fill="url(#g_light_top)"/><rect x="916.448" y="832.9" width="74.30399999999997" height="1.5" fill="#9a9a9a" opacity="0.55"/><rect x="920" y="860" width="67" height="22" rx="2" fill="url(#g_light_band)"/><rect x="920" y="860" width="67" height="1.2" fill="#9a9a9a" opacity="0.5"/><rect x="920" y="880.8" width="67" height="1.2" fill="#9a9a9a" opacity="0.5"/><rect x="914.9" y="881.7" width="77.39999999999998" height="1.5" fill="#9a9a9a" opacity="0.6"/><rect x="180" y="1206" width="107" height="33.700000000000045" fill="url(#g_dark_bot)"/><rect x="225" y="1152" width="15.400000000000006" height="87.70000000000005" fill="#9a9a9a" opacity="0.55"/><rect x="180" y="1238.5" width="107" height="1.2" fill="#6e6e6e" opacity="0.6"/><rect x="170.2" y="1152" width="126.60000000000002" height="55" fill="url(#g_dark_fl)"/><rect x="170.2" y="1152" width="126.60000000000002" height="1.3" fill="#6e6e6e" opacity="0.7"/><rect x="170.2" y="1205.8" width="126.60000000000002" height="1.2" fill="#6e6e6e" opacity="0.6"/><rect x="170.2" y="1184" width="5.697000000000001" height="12" fill="#efeff0"/><rect x="291.103" y="1184" width="5.697000000000001" height="12" fill="#efeff0"/><rect x="175.897" y="1184" width="115.20600000000002" height="12" fill="#919191" opacity="0.5"/><rect x="170.2" y="1183.4" width="126.60000000000002" height="1" fill="#6e6e6e" opacity="0.6"/><rect x="170.2" y="1195.6" width="126.60000000000002" height="1" fill="#6e6e6e" opacity="0.6"/><rect x="198.7" y="1152" width="67.30000000000001" height="21.59999999999991" fill="url(#g_dark_inner)"/><rect x="198.7" y="1172.6" width="67.30000000000001" height="1" fill="#6e6e6e" opacity="0.5"/><rect x="215.4" y="1173.6" width="35.5" height="23.700000000000045" fill="#1fb3b6"/><path d="M190.262,1088 L276.638,1088 Q278.138,1088 278.138,1089.5 L280,1152.8 L186.9,1152.8 L188.762,1089.5 Q188.762,1088 190.262,1088 Z" fill="url(#g_dark_top)"/><rect x="188.762" y="1088" width="89.37599999999999" height="1.5" fill="#6e6e6e" opacity="0.55"/><rect x="193.8" y="1117" width="80.0" height="33.700000000000045" rx="2" fill="url(#g_dark_band)"/><rect x="193.8" y="1117" width="80.0" height="1.2" fill="#6e6e6e" opacity="0.5"/><rect x="193.8" y="1149.5" width="80.0" height="1.2" fill="#6e6e6e" opacity="0.5"/><rect x="186.9" y="1151.3" width="93.1" height="1.5" fill="#6e6e6e" opacity="0.6"/><rect x="221.6" y="1087.5" width="24.400000000000006" height="20.09999999999991" fill="#efeff0"/><rect x="221.6" y="1107.6" width="24.400000000000006" height="6.8599999999999675" fill="#a4a4a4"/><circle cx="233.2" cy="1134.7" r="7" fill="#fbfbfb" stroke="#6e6e6e" stroke-width="0.6" stroke-opacity="0.5"/><rect x="418.9" y="1205.4" width="106.80000000000007" height="34.299999999999955" fill="url(#g_dark_bot)"/><rect x="464.3" y="1152.7" width="15.899999999999977" height="87.0" fill="#9a9a9a" opacity="0.55"/><rect x="418.9" y="1238.5" width="106.80000000000007" height="1.2" fill="#6e6e6e" opacity="0.6"/><rect x="408.3" y="1152.7" width="127.99999999999994" height="53.700000000000045" fill="url(#g_dark_fl)"/><rect x="408.3" y="1152.7" width="127.99999999999994" height="1.3" fill="#6e6e6e" opacity="0.7"/><rect x="408.3" y="1205.2" width="127.99999999999994" height="1.2" fill="#6e6e6e" opacity="0.6"/><rect x="437.9" y="1152.7" width="68.80000000000001" height="20.399999999999864" fill="url(#g_dark_inner)"/><rect x="437.9" y="1172.1" width="68.80000000000001" height="1" fill="#6e6e6e" opacity="0.5"/><rect x="456" y="1172.7" width="32.60000000000002" height="20.09999999999991" fill="#1fb3b6"/><path d="M427.638,1086.8 L517.662,1086.8 Q519.162,1086.8 519.162,1088.3 L521.1,1152.7 L424.2,1152.7 L426.138,1088.3 Q426.138,1086.8 427.638,1086.8 Z" fill="url(#g_dark_top)"/><rect x="426.138" y="1086.8" width="93.02400000000003" height="1.5" fill="#6e6e6e" opacity="0.55"/><rect x="432.6" y="1117.9" width="80.19999999999993" height="31.0" rx="2" fill="url(#g_dark_band)"/><rect x="432.6" y="1117.9" width="80.19999999999993" height="1.2" fill="#6e6e6e" opacity="0.5"/><rect x="432.6" y="1147.7" width="80.19999999999993" height="1.2" fill="#6e6e6e" opacity="0.5"/><rect x="424.2" y="1151.2" width="96.90000000000003" height="1.5" fill="#6e6e6e" opacity="0.6"/><rect x="459.8" y="1086.3" width="25.0" height="14.100000000000136" fill="#efeff0"/><rect x="459.8" y="1100.4" width="25.0" height="4.760000000000048" fill="#a4a4a4"/><circle cx="471.2" cy="1132.2" r="6.5" fill="#fbfbfb" stroke="#6e6e6e" stroke-width="0.6" stroke-opacity="0.5"/><rect x="669.5" y="1206.9" width="87.0" height="32.799999999999955" fill="url(#g_mid_bot)"/><rect x="704" y="1155" width="12" height="84.70000000000005" fill="#ababab" opacity="0.55"/><rect x="669.5" y="1238.5" width="87.0" height="1.2" fill="#7c7c7c" opacity="0.6"/><rect x="649" y="1155" width="128" height="52.90000000000009" fill="url(#g_mid_fl)"/><rect x="649" y="1155" width="128" height="1.3" fill="#7c7c7c" opacity="0.7"/><rect x="649" y="1206.7" width="128" height="1.2" fill="#7c7c7c" opacity="0.6"/><rect x="649" y="1185.2" width="5.76" height="13.599999999999909" fill="#efeff0"/><rect x="771.24" y="1185.2" width="5.76" height="13.599999999999909" fill="#efeff0"/><rect x="654.76" y="1185.2" width="116.48" height="13.599999999999909" fill="#a5a5a5" opacity="0.5"/><rect x="649" y="1184.6000000000001" width="128" height="1" fill="#7c7c7c" opacity="0.6"/><rect x="649" y="1198.3999999999999" width="128" height="1" fill="#7c7c7c" opacity="0.6"/><rect x="679.3" y="1155" width="68.20000000000005" height="20.40000000000009" fill="url(#g_mid_inner)"/><rect x="679.3" y="1174.4" width="68.20000000000005" height="1" fill="#7c7c7c" opacity="0.5"/><path d="M667.654,1088.3 L758.446,1088.3 Q759.946,1088.3 759.946,1089.8 L761.9,1155 L664.2,1155 L666.154,1089.8 Q666.154,1088.3 667.654,1088.3 Z" fill="url(#g_mid_top)"/><rect x="666.154" y="1088.3" width="93.79199999999993" height="1.5" fill="#7c7c7c" opacity="0.55"/><rect x="672.5" y="1117.1" width="81.0" height="37.100000000000136" rx="2" fill="url(#g_mid_band)"/><rect x="672.5" y="1117.1" width="81.0" height="1.2" fill="#7c7c7c" opacity="0.5"/><rect x="672.5" y="1153.0" width="81.0" height="1.2" fill="#7c7c7c" opacity="0.5"/><rect x="664.2" y="1153.5" width="97.69999999999993" height="1.5" fill="#7c7c7c" opacity="0.6"/><rect x="902.5" y="1205.3" width="102.0" height="34.100000000000136" fill="url(#g_light_bot)"/><rect x="946" y="1152.7" width="15" height="86.70000000000005" fill="#cbcbcb" opacity="0.55"/><rect x="902.5" y="1238.2" width="102.0" height="1.2" fill="#9a9a9a" opacity="0.6"/><rect x="888.9" y="1152.7" width="129.30000000000007" height="53.59999999999991" fill="url(#g_light_fl)"/><rect x="888.9" y="1152.7" width="129.30000000000007" height="1.3" fill="#9a9a9a" opacity="0.7"/><rect x="888.9" y="1205.1" width="129.30000000000007" height="1.2" fill="#9a9a9a" opacity="0.6"/><rect x="888.9" y="1184" width="5.818500000000003" height="9.5" fill="#efeff0"/><rect x="1012.3815000000001" y="1184" width="5.818500000000003" height="9.5" fill="#efeff0"/><rect x="894.7185" y="1184" width="117.66300000000007" height="9.5" fill="#cacaca" opacity="0.5"/><rect x="888.9" y="1183.4" width="129.30000000000007" height="1" fill="#9a9a9a" opacity="0.6"/><rect x="888.9" y="1193.1" width="129.30000000000007" height="1" fill="#9a9a9a" opacity="0.6"/><rect x="927.4" y="1152.7" width="52.30000000000007" height="21.0" fill="url(#g_light_inner)"/><rect x="927.4" y="1172.7" width="52.30000000000007" height="1" fill="#9a9a9a" opacity="0.5"/><path d="M917.644,1101 L988.756,1101 Q990.256,1101 990.256,1102.5 L991.8,1152.7 L914.6,1152.7 L916.144,1102.5 Q916.144,1101 917.644,1101 Z" fill="url(#g_light_top)"/><rect x="916.144" y="1101" width="74.11199999999994" height="1.5" fill="#9a9a9a" opacity="0.55"/><rect x="921.7" y="1123.4" width="63.09999999999991" height="23.59999999999991" rx="2" fill="url(#g_light_band)"/><rect x="921.7" y="1123.4" width="63.09999999999991" height="1.2" fill="#9a9a9a" opacity="0.5"/><rect x="921.7" y="1145.8" width="63.09999999999991" height="1.2" fill="#9a9a9a" opacity="0.5"/><rect x="914.6" y="1151.2" width="77.19999999999993" height="1.5" fill="#9a9a9a" opacity="0.6"/><rect x="170.3" y="1477.9" width="125.69999999999999" height="29.699999999999818" fill="url(#g_light_bot)"/><rect x="224" y="1429.3" width="18" height="78.29999999999995" fill="#cbcbcb" opacity="0.55"/><rect x="170.3" y="1506.3999999999999" width="125.69999999999999" height="1.2" fill="#9a9a9a" opacity="0.6"/><rect x="159.1" y="1429.3" width="148.1" height="49.600000000000136" fill="url(#g_light_fl)"/><rect x="159.1" y="1429.3" width="148.1" height="1.3" fill="#9a9a9a" opacity="0.7"/><rect x="159.1" y="1477.7" width="148.1" height="1.2" fill="#9a9a9a" opacity="0.6"/><rect x="159.1" y="1458" width="6.664499999999999" height="11.200000000000045" fill="#efeff0"/><rect x="300.5355" y="1458" width="6.664499999999999" height="11.200000000000045" fill="#efeff0"/><rect x="165.7645" y="1458" width="134.771" height="11.200000000000045" fill="#cacaca" opacity="0.5"/><rect x="159.1" y="1457.4" width="148.1" height="1" fill="#9a9a9a" opacity="0.6"/><rect x="159.1" y="1468.8" width="148.1" height="1" fill="#9a9a9a" opacity="0.6"/><rect x="194.7" y="1429.3" width="76.90000000000003" height="22.40000000000009" fill="url(#g_light_inner)"/><rect x="194.7" y="1450.7" width="76.90000000000003" height="1" fill="#9a9a9a" opacity="0.5"/><rect x="214.3" y="1452.4" width="37.0" height="25.799999999999955" fill="#1c9d99"/><line x1="214.3" y1="1455.0120000000002" x2="251.3" y2="1457.0120000000002" stroke="#bfeeee" stroke-width="1" opacity="0.8"/><line x1="214.3" y1="1460.172" x2="251.3" y2="1462.172" stroke="#bfeeee" stroke-width="1" opacity="0.8"/><line x1="214.3" y1="1465.332" x2="251.3" y2="1467.332" stroke="#bfeeee" stroke-width="1" opacity="0.8"/><line x1="214.3" y1="1470.492" x2="251.3" y2="1472.492" stroke="#bfeeee" stroke-width="1" opacity="0.8"/><line x1="214.3" y1="1475.652" x2="251.3" y2="1477.652" stroke="#bfeeee" stroke-width="1" opacity="0.8"/><path d="M181.692,1354.6 L283.908,1354.6 Q285.408,1354.6 285.408,1356.1 L287.6,1429.3 L178,1429.3 L180.192,1356.1 Q180.192,1354.6 181.692,1354.6 Z" fill="url(#g_light_top)"/><rect x="180.192" y="1354.6" width="105.21600000000002" height="1.5" fill="#9a9a9a" opacity="0.55"/><rect x="186.3" y="1388" width="93.0" height="36.40000000000009" rx="2" fill="url(#g_light_band)"/><rect x="186.3" y="1388" width="93.0" height="1.2" fill="#9a9a9a" opacity="0.5"/><rect x="186.3" y="1423.2" width="93.0" height="1.2" fill="#9a9a9a" opacity="0.5"/><rect x="178" y="1427.8" width="109.60000000000002" height="1.5" fill="#9a9a9a" opacity="0.6"/><rect x="218.5" y="1354.1" width="30.0" height="21.40000000000009" fill="#efeff0"/><rect x="218.5" y="1375.5" width="30.0" height="7.3150000000000315" fill="#d8d8d8"/><circle cx="233.1" cy="1406.3" r="8" fill="#fbfbfb" stroke="#9a9a9a" stroke-width="0.6" stroke-opacity="0.5"/><rect x="339.4" y="1479.3" width="148.8" height="28.299999999999955" fill="url(#g_dark_bot)"/><rect x="403" y="1430.7" width="20.19999999999999" height="76.89999999999986" fill="#9a9a9a" opacity="0.55"/><rect x="339.4" y="1506.3999999999999" width="148.8" height="1.2" fill="#6e6e6e" opacity="0.6"/><rect x="328.2" y="1430.7" width="169.8" height="49.59999999999991" fill="url(#g_dark_fl)"/><rect x="328.2" y="1430.7" width="169.8" height="1.3" fill="#6e6e6e" opacity="0.7"/><rect x="328.2" y="1479.1" width="169.8" height="1.2" fill="#6e6e6e" opacity="0.6"/><rect x="328.2" y="1459.4" width="7.641" height="9.799999999999955" fill="#efeff0"/><rect x="490.359" y="1459.4" width="7.641" height="9.799999999999955" fill="#efeff0"/><rect x="335.841" y="1459.4" width="154.518" height="9.799999999999955" fill="#919191" opacity="0.5"/><rect x="328.2" y="1458.8000000000002" width="169.8" height="1" fill="#6e6e6e" opacity="0.6"/><rect x="328.2" y="1468.8" width="169.8" height="1" fill="#6e6e6e" opacity="0.6"/><rect x="368" y="1430.7" width="90.10000000000002" height="21.0" fill="url(#g_dark_inner)"/><rect x="368" y="1450.7" width="90.10000000000002" height="1" fill="#6e6e6e" opacity="0.5"/><rect x="393.2" y="1451" width="40.5" height="28" fill="#1fb3b6"/><path d="M354.516,1344.8 L472.284,1344.8 Q473.784,1344.8 473.784,1346.3 L476.3,1430.7 L350.5,1430.7 L353.016,1346.3 Q353.016,1344.8 354.516,1344.8 Z" fill="url(#g_dark_top)"/><rect x="353.016" y="1344.8" width="120.76800000000001" height="1.5" fill="#6e6e6e" opacity="0.55"/><rect x="359.6" y="1379.7" width="106.89999999999998" height="51.700000000000045" rx="2" fill="url(#g_dark_band)"/><rect x="359.6" y="1379.7" width="106.89999999999998" height="1.2" fill="#6e6e6e" opacity="0.5"/><rect x="359.6" y="1430.2" width="106.89999999999998" height="1.2" fill="#6e6e6e" opacity="0.5"/><rect x="350.5" y="1429.2" width="125.80000000000001" height="1.5" fill="#6e6e6e" opacity="0.6"/><rect x="396" y="1344.3" width="34.19999999999999" height="17.90000000000009" fill="#efeff0"/><rect x="396" y="1362.2" width="34.19999999999999" height="6.090000000000032" fill="#a4a4a4"/><circle cx="413.4" cy="1404.2" r="10" fill="#fbfbfb" stroke="#6e6e6e" stroke-width="0.6" stroke-opacity="0.5"/><rect x="538.2" y="1487.1" width="111.0" height="21.200000000000045" fill="url(#g_dark_bot)"/><rect x="586" y="1450.7" width="14" height="57.59999999999991" fill="#9a9a9a" opacity="0.55"/><rect x="538.2" y="1507.1" width="111.0" height="1.2" fill="#6e6e6e" opacity="0.6"/><rect x="530.5" y="1450.7" width="126.79999999999995" height="37.399999999999864" fill="url(#g_dark_fl)"/><rect x="530.5" y="1450.7" width="126.79999999999995" height="1.3" fill="#6e6e6e" opacity="0.7"/><rect x="530.5" y="1486.8999999999999" width="126.79999999999995" height="1.2" fill="#6e6e6e" opacity="0.6"/><rect x="530.5" y="1474" width="5.705999999999998" height="6" fill="#efeff0"/><rect x="651.5939999999999" y="1474" width="5.705999999999998" height="6" fill="#efeff0"/><rect x="536.206" y="1474" width="115.38799999999996" height="6" fill="#919191" opacity="0.5"/><rect x="530.5" y="1473.4" width="126.79999999999995" height="1" fill="#6e6e6e" opacity="0.6"/><rect x="530.5" y="1479.6" width="126.79999999999995" height="1" fill="#6e6e6e" opacity="0.6"/><rect x="560.4" y="1450.7" width="66.60000000000002" height="15.200000000000045" fill="url(#g_dark_inner)"/><rect x="560.4" y="1464.9" width="66.60000000000002" height="1" fill="#6e6e6e" opacity="0.5"/><rect x="578.5" y="1466.5" width="30.299999999999955" height="20.59999999999991" fill="#1fb3b6"/><path d="M550.656,1386.1 L636.744,1386.1 Q638.244,1386.1 638.244,1387.6 L640.1,1450.7 L547.3,1450.7 L549.156,1387.6 Q549.156,1386.1 550.656,1386.1 Z" fill="url(#g_dark_top)"/><rect x="549.156" y="1386.1" width="89.08800000000006" height="1.5" fill="#6e6e6e" opacity="0.55"/><rect x="553.3" y="1415.4" width="79.70000000000005" height="34.299999999999955" rx="2" fill="url(#g_dark_band)"/><rect x="553.3" y="1415.4" width="79.70000000000005" height="1.2" fill="#6e6e6e" opacity="0.5"/><rect x="553.3" y="1448.5" width="79.70000000000005" height="1.2" fill="#6e6e6e" opacity="0.5"/><rect x="547.3" y="1449.2" width="92.80000000000007" height="1.5" fill="#6e6e6e" opacity="0.6"/><rect x="580.6" y="1385.6" width="26.600000000000023" height="14.700000000000045" fill="#efeff0"/><rect x="580.6" y="1400.3" width="26.600000000000023" height="4.970000000000016" fill="#a4a4a4"/><circle cx="593.7" cy="1431.6" r="7" fill="#fbfbfb" stroke="#6e6e6e" stroke-width="0.6" stroke-opacity="0.5"/><rect x="718.8" y="1480" width="104.0" height="28.299999999999955" fill="url(#g_light_bot)"/><rect x="718.8" y="1507.1" width="104.0" height="1.2" fill="#9a9a9a" opacity="0.6"/><rect x="696.6" y="1435.6" width="148.39999999999998" height="45.40000000000009" fill="url(#g_light_fl)"/><rect x="696.6" y="1435.6" width="148.39999999999998" height="1.3" fill="#9a9a9a" opacity="0.7"/><rect x="696.6" y="1479.8" width="148.39999999999998" height="1.2" fill="#9a9a9a" opacity="0.6"/><rect x="744" y="1435.6" width="55.60000000000002" height="8.100000000000136" fill="url(#g_light_inner)"/><rect x="744" y="1442.7" width="55.60000000000002" height="1" fill="#9a9a9a" opacity="0.5"/><path d="M732.0559999999999,1379.1 L808.5440000000001,1379.1 Q810.0440000000001,1379.1 810.0440000000001,1380.6 L811.7,1435.6 L728.9,1435.6 L730.5559999999999,1380.6 Q730.5559999999999,1379.1 732.0559999999999,1379.1 Z" fill="url(#g_light_top)"/><rect x="730.5559999999999" y="1379.1" width="79.48800000000007" height="1.5" fill="#9a9a9a" opacity="0.55"/><rect x="733" y="1400" width="74" height="34" rx="2" fill="url(#g_light_band)"/><rect x="733" y="1400" width="74" height="1.2" fill="#9a9a9a" opacity="0.5"/><rect x="733" y="1432.8" width="74" height="1.2" fill="#9a9a9a" opacity="0.5"/><rect x="728.9" y="1434.1" width="82.80000000000007" height="1.5" fill="#9a9a9a" opacity="0.6"/><circle cx="770.3" cy="1430" r="2.5" fill="#fbfbfb" stroke="#9a9a9a" stroke-width="0.6" stroke-opacity="0.5"/><rect x="892.4" y="1490.1" width="120.10000000000002" height="18.200000000000045" fill="url(#g_light_bot)"/><rect x="892.4" y="1507.1" width="120.10000000000002" height="1.2" fill="#9a9a9a" opacity="0.6"/><rect x="878.3" y="1444.7" width="148.4000000000001" height="46.399999999999864" fill="url(#g_light_fl)"/><rect x="878.3" y="1444.7" width="148.4000000000001" height="1.3" fill="#9a9a9a" opacity="0.7"/><rect x="878.3" y="1489.8999999999999" width="148.4000000000001" height="1.2" fill="#9a9a9a" opacity="0.6"/><rect x="878.3" y="1474" width="6.6780000000000035" height="7" fill="#efeff0"/><rect x="1020.022" y="1474" width="6.6780000000000035" height="7" fill="#efeff0"/><rect x="884.978" y="1474" width="135.0440000000001" height="7" fill="#cacaca" opacity="0.5"/><rect x="878.3" y="1473.4" width="148.4000000000001" height="1" fill="#9a9a9a" opacity="0.6"/><rect x="878.3" y="1480.6" width="148.4000000000001" height="1" fill="#9a9a9a" opacity="0.6"/><path d="M914.736,1389.2 L990.264,1389.2 Q991.764,1389.2 991.764,1390.7 L993.4,1444.7 L911.6,1444.7 L913.236,1390.7 Q913.236,1389.2 914.736,1389.2 Z" fill="url(#g_light_top)"/><rect x="913.236" y="1389.2" width="78.52799999999996" height="1.5" fill="#9a9a9a" opacity="0.55"/><rect x="916" y="1412" width="73" height="31" rx="2" fill="url(#g_light_band)"/><rect x="916" y="1412" width="73" height="1.2" fill="#9a9a9a" opacity="0.5"/><rect x="916" y="1441.8" width="73" height="1.2" fill="#9a9a9a" opacity="0.5"/><rect x="911.6" y="1443.2" width="81.79999999999995" height="1.5" fill="#9a9a9a" opacity="0.6"/></svg><svg style="left:0;top:0" width="3396" height="1706" viewBox="0 0 3396 1706"><defs>
<linearGradient id="silv" x1="0" y1="0" x2="0" y2="1"><stop offset="0" stop-color="#f4f4f4"/><stop offset="0.45" stop-color="#d8d8d8"/><stop offset="0.8" stop-color="#b0b0b0"/><stop offset="1" stop-color="#d0d0d0"/></linearGradient>
<linearGradient id="silv2" x1="0" y1="0" x2="0" y2="1"><stop offset="0" stop-color="#eeeeee"/><stop offset="0.5" stop-color="#c4c4c4"/><stop offset="1" stop-color="#e0e0e0"/></linearGradient>
<linearGradient id="dk" x1="0" y1="0" x2="0" y2="1"><stop offset="0" stop-color="#3a3a3c"/><stop offset="0.35" stop-color="#4a4a4c"/><stop offset="0.7" stop-color="#333335"/><stop offset="1" stop-color="#2b2b2d"/></linearGradient>
</defs><g id="mcg"><g transform="translate(1917,408) rotate(-43)"><path d="M128,-31 L186,-27 Q196,0 186,27 L128,31 Z" fill="url(#silv)"/><ellipse cx="186" cy="0" rx="9" ry="27" fill="#d4d4d4"/><rect x="150" y="-31" width="10" height="62" fill="#a9a9a9" opacity="0.5"/><ellipse cx="131" cy="6" rx="17" ry="51" fill="url(#silv2)"/><ellipse cx="124" cy="6" rx="13" ry="49" fill="#cfcfcf"/><ellipse cx="121" cy="4" rx="10" ry="34" fill="#2e2e30"/><path d="M0,-34 L121,-30 L121,38 L0,34 Z" fill="url(#dk)"/><rect x="90" y="14" width="18" height="8" rx="4" fill="#1a1a1a"/><ellipse cx="0" cy="0" rx="17" ry="34" fill="#3a3a3c"/><ellipse cx="-1" cy="3" rx="11" ry="22" fill="#141414"/><ellipse cx="1" cy="-1" rx="7" ry="15" fill="#2a2a2a" opacity="0.7"/></g><path d="M1874,401 L1895,381" stroke="#111" stroke-width="1" fill="none"/><path d="M1928,452 L1946,434" stroke="#111" stroke-width="1" fill="none"/><path d="M1879,397 L1932,447" stroke="#111" stroke-width="1" fill="none"/><path d="M1948,434 L1968,454" stroke="#111" stroke-width="1" fill="none"/><path d="M2062,318 L2085,339" stroke="#111" stroke-width="1" fill="none"/><path d="M1968,450 L2081,336" stroke="#111" stroke-width="1" fill="none"/><path d="M1889,352 L1923,385" stroke="#111" stroke-width="1" fill="none"/><circle cx="1923" cy="385" r="1.4" fill="#111"/><path d="M1879.0,397.0 L1890.0,401.4 L1884.1,407.7 Z" fill="#111"/><path d="M1932.0,447.0 L1921.0,442.6 L1926.9,436.3 Z" fill="#111"/><path d="M1968.0,450.0 L1972.7,439.2 L1978.8,445.3 Z" fill="#111"/><path d="M2081.0,336.0 L2076.3,346.8 L2070.2,340.7 Z" fill="#111"/><text x="1872.5" y="349.5" font-family="Liberation Sans" font-weight="700" font-size="14" fill="#111" textLength="22.5" lengthAdjust="spacingAndGlyphs">CM</text><text x="1891.5" y="436" font-family="Liberation Sans" font-weight="700" font-size="13.5" fill="#111">D</text><text x="2029.5" y="410.5" font-family="Liberation Sans" font-weight="700" font-size="13.5" fill="#111">L</text></g><use href="#mcg" transform="translate(506,0.3)"/><use href="#mcg" transform="translate(810.5,0.3)"/></svg><svg style="left:0;top:0" width="3396" height="1706" viewBox="0 0 3396 1706"><g transform="translate(1238.1,379)"><rect x="0" y="0" width="58" height="59.8" rx="4.5" fill="#0f52a9"/><path d="M6.6,2.3 L23.2,2.3 L49.5,8.6 Q52.5,10.5 52.5,15.2 L13.9,15.2 L13.9,44.6 L52.5,44.6 Q52.5,49.5 49.5,51.3 L23.2,58.2 L6.6,58.2 Z" fill="#fff"/><text x="17.2" y="41" font-family="Liberation Sans" font-size="31" fill="#fff" textLength="37" lengthAdjust="spacingAndGlyphs">H6</text></g><g transform="translate(1310.1,379)"><rect x="0" y="0" width="57.5" height="59.8" rx="4.5" fill="#0f52a9"/><path d="M3.6,33.3 L20,33.8 L54,40.5 L54,55 Q54,57 52,57 L5.6,57 Q3.6,57 3.6,55 Z" fill="#fff"/><path d="M51.8,2.3 Q55,3.8 52,6.2 Q44,8.5 40.5,12.8 Q40,16 43,20 L55,36.5 L54,39.8 L47.5,39.3 L35,27.5 Q30,24.5 27.5,28 L25.5,29.5 L17.5,23 L33,9.5 Q41,3 51.8,2.3 Z" fill="#fff"/><path d="M6,21 L14,28.5 M9,19.5 L13.5,24 M12.5,20 L13.5,24.5" stroke="#fff" stroke-width="1.6" fill="none"/><path d="M5,32 Q9,28.5 15,30" stroke="#fff" stroke-width="1.8" fill="none"/><text x="6.8" y="55.6" font-family="Liberation Sans" font-weight="700" font-size="14" fill="#0d3d86" textLength="47" lengthAdjust="spacingAndGlyphs">58HRC</text></g><g transform="translate(1382.2,379)"><rect x="0" y="0" width="58.4" height="59.8" rx="4.5" fill="#8f1518"/><path d="M2.5,8.6 Q29,4.2 55.8,8.6 L55.8,15.8 L35,15.8 L35,19.2 L32.7,21.5 L32.7,41 L34.7,43.5 L34.7,55 L24,55 L24,43.5 L26.5,41 L26.5,21.5 L23.7,19.2 L23.7,15.8 L2.5,15.8 Z" fill="#fff"/></g><g transform="translate(1455.2,379)"><rect x="0" y="0" width="57.3" height="59.8" rx="4.5" fill="#8f1518"/><rect x="0.8" y="9" width="55" height="10.2" rx="5" fill="#fff"/><rect x="25.4" y="18" width="6.5" height="35" fill="#fff"/><circle cx="48.5" cy="14.3" r="1.9" fill="#8f1518"/></g><g transform="translate(1527,379)"><rect x="0" y="0" width="57.6" height="59.8" rx="4.5" fill="#2aa84a"/><clipPath id="rpmclip"><rect x="0" y="0" width="57.6" height="41.7"/></clipPath><ellipse cx="29" cy="34" rx="25.6" ry="31.3" fill="#fff" clip-path="url(#rpmclip)"/><path d="M1.3,41.7 L56.3,41.7 L56.3,55 Q56.3,58.4 53,58.4 L4.6,58.4 Q1.3,58.4 1.3,55 Z" fill="#fff"/><line x1="14.0" y1="29.4" x2="7.3" y2="27.3" stroke="#2aa84a" stroke-width="2.6"/><line x1="15.6" y1="25.1" x2="9.5" y2="21.1" stroke="#2aa84a" stroke-width="2.6"/><line x1="18.0" y1="21.4" x2="13.1" y2="15.7" stroke="#2aa84a" stroke-width="1.2"/><line x1="21.2" y1="18.6" x2="17.7" y2="11.6" stroke="#2aa84a" stroke-width="1.2"/><line x1="25.0" y1="16.8" x2="23.2" y2="9.0" stroke="#2aa84a" stroke-width="1.2"/><line x1="29.0" y1="16.2" x2="29.0" y2="8.1" stroke="#2aa84a" stroke-width="1.2"/><line x1="33.0" y1="16.8" x2="34.8" y2="9.0" stroke="#2aa84a" stroke-width="1.2"/><line x1="36.8" y1="18.6" x2="40.2" y2="11.6" stroke="#2aa84a" stroke-width="1.2"/><line x1="40.0" y1="21.4" x2="44.9" y2="15.7" stroke="#2aa84a" stroke-width="1.2"/><line x1="42.4" y1="25.1" x2="48.5" y2="21.1" stroke="#2aa84a" stroke-width="2.6"/><line x1="44.0" y1="29.4" x2="50.7" y2="27.3" stroke="#2aa84a" stroke-width="2.6"/><rect x="5.5" y="25.2" width="9" height="2.6" fill="#2aa84a"/><rect x="43.5" y="25.2" width="9" height="2.6" fill="#2aa84a"/><rect x="5.5" y="29.7" width="9" height="2.6" fill="#2aa84a"/><rect x="43.5" y="29.7" width="9" height="2.6" fill="#2aa84a"/><rect x="5.5" y="34.2" width="9" height="2.6" fill="#2aa84a"/><rect x="43.5" y="34.2" width="9" height="2.6" fill="#2aa84a"/><rect x="5.5" y="38.2" width="9" height="2.6" fill="#2aa84a"/><rect x="43.5" y="38.2" width="9" height="2.6" fill="#2aa84a"/><path d="M18,41.7 Q18,20 29,19.8 Q40,20 40,41.7 Z" fill="#2aa84a"/><text x="17.5" y="36.6" font-family="Liberation Sans" font-weight="700" font-size="10" fill="#fff" textLength="24" lengthAdjust="spacingAndGlyphs">RPM</text><path d="M29,46.5 L29,55 M23,50.8 L35,50.8" stroke="#2aa84a" stroke-width="2.2"/></g><g transform="translate(1599.2,379)"><rect x="0" y="0" width="57.8" height="59.8" rx="4.5" fill="#2aa84a"/><ellipse cx="29.2" cy="29.3" rx="25.4" ry="26.6" transform="rotate(-25 29.2 29.3)" fill="#fff"/><ellipse cx="29.2" cy="30" rx="21.6" ry="22.6" transform="rotate(-25 29.2 30)" fill="#2aa84a"/><path d="M16.6,19.5 Q21,12 30,9.5 L45,9 Q51,16 51,27 Q50,37 44,43 L31.5,41 Q25,39.5 21.5,34.5 Q17.5,28 16.6,19.5 Z" fill="#fff"/><path d="M20.5,11.2 L32,11.2 M29.5,25 L29.5,40 M34.5,8.5 L34.5,44 M34.5,9.5 L45,7 M39,14.5 L48,14.5 L48,24 L41.5,25 L41.5,41 M19.5,16.5 L19.5,24.5 L29.5,24.5 M24.5,36 L29.5,41" stroke="#2aa84a" stroke-width="2.1" fill="none"/><circle cx="32.5" cy="11.2" r="2.1" fill="#2aa84a"/><circle cx="45" cy="7.2" r="2" fill="#2aa84a"/><circle cx="19.5" cy="16.5" r="2" fill="#2aa84a"/><circle cx="41.5" cy="22" r="2.1" fill="#2aa84a"/><circle cx="39" cy="14.5" r="1.8" fill="#2aa84a"/><circle cx="26" cy="37.5" r="2" fill="#2aa84a"/></g></svg><svg style="left:0;top:0" width="3396" height="1706" viewBox="0 0 3396 1706"><g transform="translate(3180,78)" fill="none" stroke="#fff" stroke-width="1.7" stroke-linejoin="round"><path d="M11.3,17.5 L17.5,14.8 L18.3,43.4 L11.3,43.4 Z"/><path d="M24.7,43.4 L24.7,12 L31,11.2 L33,12.5 L37,10 L41,11 L45,10.3 L50,9.8 L54.5,11.6 L57.3,14.3 L57.3,43.4 L52.4,43.4 L52.4,20 Q52.4,18.6 50.5,18.6 L45.4,18.8 L45.4,43.4 L38.3,43.4 L38.3,20.5 Q38,19.2 36,19.3 L31.7,21 L31.7,43.4 Z"/><path d="M63.9,14 L78.4,17.6 L78.4,23.8 L69.6,20.7 L69.6,23.8 L78.4,29 L78.4,41.4 Q78.4,43.4 75.8,43.4 L63.9,43.4 L63.9,37.4 L70.9,37.4 L70.9,33.5 L63.9,28.2 Z"/></g><rect x="3191" y="124" width="67.9" height="2.7" fill="#fff"/></svg><svg style="left:0;top:0" width="3396" height="1706" viewBox="0 0 3396 1706"><defs>
<filter id="blur6" x="-50%" y="-50%" width="200%" height="200%"><feGaussianBlur stdDeviation="7"/></filter>
<filter id="blur1" x="-20%" y="-20%" width="140%" height="140%"><feGaussianBlur stdDeviation="0.8"/></filter>
<linearGradient id="met1" x1="0" y1="0" x2="1" y2="1"><stop offset="0" stop-color="#e6e6e6"/><stop offset="0.45" stop-color="#b9b9b9"/><stop offset="0.7" stop-color="#8b8b8b"/><stop offset="1" stop-color="#cfcfcf"/></linearGradient>
<linearGradient id="met2" x1="0" y1="0" x2="1" y2="0"><stop offset="0" stop-color="#8a8a8a"/><stop offset="0.25" stop-color="#dadada"/><stop offset="0.55" stop-color="#f2f2f2"/><stop offset="0.8" stop-color="#b5b5b5"/><stop offset="1" stop-color="#8e8e8e"/></linearGradient>
<linearGradient id="met3" x1="0" y1="0" x2="1" y2="0.3"><stop offset="0" stop-color="#d0d0d0"/><stop offset="0.5" stop-color="#f0f0f0"/><stop offset="1" stop-color="#a0a0a0"/></linearGradient>
<radialGradient id="blk" cx="0.4" cy="0.4" r="0.7"><stop offset="0" stop-color="#3a3a3a"/><stop offset="0.6" stop-color="#161616"/><stop offset="1" stop-color="#0a0a0a"/></radialGradient>
</defs><ellipse cx="760" cy="392" rx="80" ry="18" fill="#9a9a9a" opacity="0.45" filter="url(#blur6)"/><ellipse cx="930" cy="362" rx="70" ry="16" fill="#9a9a9a" opacity="0.4" filter="url(#blur6)"/><ellipse cx="750" cy="330" rx="76" ry="58" fill="url(#blk)"/><path d="M676,338 Q690,385 752,388 Q812,386 826,336 Q815,372 752,378 Q692,378 676,338 Z" fill="#8c8c8c"/><path d="M690,300 Q700,285 720,280 L725,300 Q705,305 690,300 Z" fill="#555" opacity="0.6"/><ellipse cx="742" cy="318" rx="66" ry="47" fill="none" stroke="#a9a9a9" stroke-width="3" opacity="0.8"/><path d="M677,262 L681,300 Q700,335 738,337 Q780,334 793,300 L795,262 Z" fill="url(#met2)"/><ellipse cx="735.5" cy="260.5" rx="59.5" ry="48.5" fill="url(#met1)"/><ellipse cx="736" cy="266" rx="46" ry="37" fill="url(#blk)"/><path d="M700,222 L712,216 L717,227 L705,233 Z" fill="#e8e8e8"/><path d="M776,268 L790,270 L789,285 L776,283 Z" fill="#1a1a1a"/><path d="M752,296 L765,292 L768,305 L755,309 Z" fill="#1a1a1a"/><circle cx="725" cy="257" r="7" fill="#9d9d9d"/><circle cx="725" cy="257" r="4" fill="#cfcfcf"/><ellipse cx="742" cy="283" rx="22" ry="10" fill="#2b2b2b"/><ellipse cx="924" cy="250" rx="76" ry="60" transform="rotate(25 924 250)" fill="url(#met3)"/><ellipse cx="918" cy="256" rx="66" ry="54" transform="rotate(25 918 256)" fill="none" stroke="#6e6e6e" stroke-width="2"/><ellipse cx="905" cy="272" rx="63" ry="50" transform="rotate(25 905 272)" fill="#141414"/><ellipse cx="903" cy="278" rx="54" ry="43" transform="rotate(25 903 278)" fill="#bdbdbd"/><path d="M848,268 L838,318 Q860,372 905,372 Q950,360 958,320 L958,286 Z" fill="url(#met2)"/><ellipse cx="884" cy="326" rx="47" ry="37" transform="rotate(25 884 326)" fill="#c9c9c9"/><ellipse cx="886" cy="330" rx="39" ry="30" transform="rotate(25 886 330)" fill="url(#blk)"/><path d="M873,290 L900,287 L903,312 L878,318 Z" fill="#d6d6d6"/><path d="M866,336 L880,333 L886,355 L872,360 Z" fill="#c4c4c4"/><circle cx="898" cy="320" r="5" fill="#a8a8a8"/><ellipse cx="925" cy="207" rx="13" ry="9" transform="rotate(25 925 207)" fill="#dcdcdc"/><circle cx="917" cy="252" r="4" fill="#222"/></svg><svg style="left:0;top:0" width="3396" height="1706" viewBox="0 0 3396 1706"><defs><linearGradient id="stl" x1="0" y1="0" x2="1" y2="0">
<stop offset="0" stop-color="#6f6f6f"/><stop offset="0.12" stop-color="#9a9a9a"/><stop offset="0.22" stop-color="#505050"/>
<stop offset="0.4" stop-color="#8a8a8a"/><stop offset="0.55" stop-color="#c8c8c8"/><stop offset="0.7" stop-color="#7a7a7a"/><stop offset="1" stop-color="#5c5c5c"/></linearGradient></defs>
<rect x="2768" y="1424.5" width="77" height="80.5" fill="#fff"/>
<rect x="2768" y="1424.5" width="34" height="27.5" fill="url(#stl)"/>
<rect x="2768" y="1450.5" width="34" height="3.5" fill="#1c1c1c"/>
<rect x="2768" y="1454" width="54" height="28.5" fill="url(#stl)"/>
<rect x="2768" y="1482.5" width="52" height="6" fill="#1a1a1a"/>
<rect x="2768" y="1488.5" width="50" height="16.5" fill="url(#stl)"/>
<rect x="2768" y="1486" width="50" height="2" fill="#333"/>
</svg>
<div class="t" id="p1hsk" style="left:157.50px;top:106.04px;font-size:26.54px;font-weight:700;color:#fff;font-family:'Liberation Sans', sans-serif;letter-spacing:0.000px;transform:scaleX(0.9370);transform-origin:0 0;">HSK</div>
<div class="t" id="p1t1" style="left:145.50px;top:157.13px;font-size:33.52px;font-weight:400;color:#fff;font-family:'Liberation Sans', sans-serif;letter-spacing:0.946px;">Part codes for available</div>
<div class="t" id="p1t2" style="left:145.50px;top:194.63px;font-size:33.52px;font-weight:400;color:#fff;font-family:'Liberation Sans', sans-serif;letter-spacing:0.000px;transform:scaleX(0.9926);transform-origin:0 0;">HSK CONNECTIONS*</div>
<div class="t" id="p1d1" style="left:144.60px;top:275.98px;font-size:20.11px;font-weight:400;color:#4a4a4a;font-family:'Liberation Sans', sans-serif;letter-spacing:0.000px;transform:scaleX(0.9655);transform-origin:0 0;">To configure your toolholder you need to choose</div>
<div class="t" id="p1d2" style="left:144.60px;top:301.18px;font-size:20.11px;font-weight:400;color:#4a4a4a;font-family:'Liberation Sans', sans-serif;letter-spacing:0.000px;transform:scaleX(0.9689);transform-origin:0 0;">one of the following connections first.</div>
<div class="t" id="p1fn" style="left:145.00px;top:422.95px;font-size:13.41px;font-weight:400;color:#222;font-family:'Liberation Sans', sans-serif;letter-spacing:0.000px;transform:scaleX(1.0268);transform-origin:0 0;">*See page 69 for the complete list of DIN manufacturing rules.</div>
<div class="t" id="p2hsk" style="left:1254.00px;top:106.04px;font-size:26.54px;font-weight:700;color:#fff;font-family:'Liberation Sans', sans-serif;letter-spacing:0.000px;transform:scaleX(0.9370);transform-origin:0 0;">HSK</div>
<div class="t" id="p2sub" style="left:1336.20px;top:110.57px;font-size:20.95px;font-weight:400;color:#fff;font-family:'Liberation Sans', sans-serif;letter-spacing:1.963px;">HSK TOOL HOLDERS <b>DIN 69893</b></div>
<div class="t" id="p2t1" style="left:1239.60px;top:156.04px;font-size:34.92px;font-weight:400;color:#fff;font-family:'Liberation Sans', sans-serif;letter-spacing:0.000px;transform:scaleX(1.0074);transform-origin:0 0;">Morse Cone Reductions DIN 228</div>
<div class="t" id="p2d1" style="left:1239.00px;top:275.98px;font-size:20.11px;font-weight:400;color:#4a4a4a;font-family:'Liberation Sans', sans-serif;letter-spacing:0.000px;transform:scaleX(0.9392);transform-origin:0 0;">Reduction system for the use of bits and mills</div>
<div class="t" id="p2d2" style="left:1239.00px;top:301.18px;font-size:20.11px;font-weight:400;color:#4a4a4a;font-family:'Liberation Sans', sans-serif;letter-spacing:0.000px;transform:scaleX(0.9531);transform-origin:0 0;">in lathes and machines equipped with morse cones.</div>
<div class="t" id="p2pg1" style="left:1411.50px;top:443.77px;font-size:13.27px;font-weight:400;color:#333;font-family:'Liberation Sans', sans-serif;letter-spacing:0.000px;transform:translateX(-50%) scaleX(0.9577);transform-origin:50% 0;">page 163</div>
<div class="t" id="p2pg2" style="left:1555.80px;top:443.77px;font-size:13.27px;font-weight:400;color:#333;font-family:'Liberation Sans', sans-serif;letter-spacing:0.000px;transform:translateX(-50%) scaleX(0.9486);transform-origin:50% 0;">page 223</div>
<div class="t" id="p3po" style="right:223.70px;top:101.23px;font-size:13.55px;font-weight:700;color:#101a2a;font-family:'Liberation Sans', sans-serif;letter-spacing:0.931px;">PARTS OF</div>
<div class="t" id="p3yb" style="right:223.50px;top:117.33px;font-size:13.55px;font-weight:700;color:#101a2a;font-family:'Liberation Sans', sans-serif;letter-spacing:1.102px;">YOUR BUSINESS</div>
<div class="t" id="p3mm" style="left:2718.60px;top:1370.76px;font-size:15.64px;font-weight:700;color:#1a1a1a;font-family:'Liberation Sans', sans-serif;letter-spacing:0.000px;transform:scaleX(0.8954);transform-origin:0 0;">MANUFACTURING MATERIAL</div>
<div class="t" id="p3st" style="left:2783.50px;top:1515.83px;font-size:15.08px;font-weight:400;color:#222;font-family:'Liberation Sans', sans-serif;letter-spacing:0.000px;transform:scaleX(0.8413);transform-origin:0 0;">STEEL</div>
<div class="t" id="lab00" style="left:233.30px;top:717.10px;font-size:16.06px;font-weight:700;color:#1a1a1a;font-family:'Liberation Sans', sans-serif;letter-spacing:0.000px;transform:translateX(-50%) scaleX(0.6881);transform-origin:50% 0;">HSK 25 E</div>
<div class="t" id="cod00" style="left:233.30px;top:736.99px;font-size:16.20px;font-weight:400;color:#333;font-family:'Liberation Sans', sans-serif;letter-spacing:0.000px;transform:translateX(-50%) scaleX(0.8130);transform-origin:50% 0;">Cod. <b style="color:#24507e">1AA</b></div>
<div class="t" id="lab01" style="left:412.80px;top:717.10px;font-size:16.06px;font-weight:700;color:#1a1a1a;font-family:'Liberation Sans', sans-serif;letter-spacing:0.000px;transform:translateX(-50%) scaleX(0.6881);transform-origin:50% 0;">HSK 32 A</div>
<div class="t" id="cod01" style="left:412.80px;top:736.99px;font-size:16.20px;font-weight:400;color:#333;font-family:'Liberation Sans', sans-serif;letter-spacing:0.000px;transform:translateX(-50%) scaleX(0.8130);transform-origin:50% 0;">Cod. <b style="color:#24507e">1AB</b></div>
<div class="t" id="lab02" style="left:593.80px;top:717.10px;font-size:16.06px;font-weight:700;color:#1a1a1a;font-family:'Liberation Sans', sans-serif;letter-spacing:0.000px;transform:translateX(-50%) scaleX(0.6881);transform-origin:50% 0;">HSK 32 C</div>
<div class="t" id="cod02" style="left:593.80px;top:736.99px;font-size:16.20px;font-weight:400;color:#333;font-family:'Liberation Sans', sans-serif;letter-spacing:0.000px;transform:translateX(-50%) scaleX(0.8130);transform-origin:50% 0;">Cod. <b style="color:#24507e">1AC</b></div>
<div class="t" id="lab03" style="left:770.00px;top:717.10px;font-size:16.06px;font-weight:700;color:#1a1a1a;font-family:'Liberation Sans', sans-serif;letter-spacing:0.000px;transform:translateX(-50%) scaleX(0.6881);transform-origin:50% 0;">HSK 32 E</div>
<div class="t" id="cod03" style="left:770.00px;top:736.99px;font-size:16.20px;font-weight:400;color:#333;font-family:'Liberation Sans', sans-serif;letter-spacing:0.000px;transform:translateX(-50%) scaleX(0.8130);transform-origin:50% 0;">Cod. <b style="color:#24507e">1AD</b></div>
<div class="t" id="lab04" style="left:952.50px;top:717.10px;font-size:16.06px;font-weight:700;color:#1a1a1a;font-family:'Liberation Sans', sans-serif;letter-spacing:0.000px;transform:translateX(-50%) scaleX(0.6881);transform-origin:50% 0;">HSK 40 A</div>
<div class="t" id="cod04" style="left:952.50px;top:736.99px;font-size:16.20px;font-weight:400;color:#333;font-family:'Liberation Sans', sans-serif;letter-spacing:0.000px;transform:translateX(-50%) scaleX(0.8130);transform-origin:50% 0;">Cod. <b style="color:#24507e">1AE</b></div>
<div class="t" id="lab10" style="left:233.40px;top:985.00px;font-size:16.06px;font-weight:700;color:#1a1a1a;font-family:'Liberation Sans', sans-serif;letter-spacing:0.000px;transform:translateX(-50%) scaleX(0.6881);transform-origin:50% 0;">HSK 40 E</div>
<div class="t" id="cod10" style="left:233.40px;top:1005.29px;font-size:16.20px;font-weight:400;color:#333;font-family:'Liberation Sans', sans-serif;letter-spacing:0.000px;transform:translateX(-50%) scaleX(0.8130);transform-origin:50% 0;">Cod. <b style="color:#24507e">1AF</b></div>
<div class="t" id="lab11" style="left:412.80px;top:985.00px;font-size:16.06px;font-weight:700;color:#1a1a1a;font-family:'Liberation Sans', sans-serif;letter-spacing:0.000px;transform:translateX(-50%) scaleX(0.6881);transform-origin:50% 0;">HSK 50 A</div>
<div class="t" id="cod11" style="left:412.80px;top:1005.29px;font-size:16.20px;font-weight:400;color:#333;font-family:'Liberation Sans', sans-serif;letter-spacing:0.000px;transform:translateX(-50%) scaleX(0.8130);transform-origin:50% 0;">Cod. <b style="color:#24507e">1AG</b></div>
<div class="t" id="lab12" style="left:593.80px;top:985.00px;font-size:16.06px;font-weight:700;color:#1a1a1a;font-family:'Liberation Sans', sans-serif;letter-spacing:0.000px;transform:translateX(-50%) scaleX(0.6881);transform-origin:50% 0;">HSK 50 C</div>
<div class="t" id="cod12" style="left:593.80px;top:1005.29px;font-size:16.20px;font-weight:400;color:#333;font-family:'Liberation Sans', sans-serif;letter-spacing:0.000px;transform:translateX(-50%) scaleX(0.8130);transform-origin:50% 0;">Cod. <b style="color:#24507e">1AH</b></div>
<div class="t" id="lab13" style="left:769.00px;top:985.00px;font-size:16.06px;font-weight:700;color:#1a1a1a;font-family:'Liberation Sans', sans-serif;letter-spacing:0.000px;transform:translateX(-50%) scaleX(0.6881);transform-origin:50% 0;">HSK 50 E</div>
<div class="t" id="cod13" style="left:769.00px;top:1005.29px;font-size:16.20px;font-weight:400;color:#333;font-family:'Liberation Sans', sans-serif;letter-spacing:0.000px;transform:translateX(-50%) scaleX(0.8130);transform-origin:50% 0;">Cod. <b style="color:#24507e">1AI</b></div>
<div class="t" id="lab14" style="left:952.50px;top:985.00px;font-size:16.06px;font-weight:700;color:#1a1a1a;font-family:'Liberation Sans', sans-serif;letter-spacing:0.000px;transform:translateX(-50%) scaleX(0.6881);transform-origin:50% 0;">HSK 50 F</div>
<div class="t" id="cod14" style="left:952.50px;top:1005.29px;font-size:16.20px;font-weight:400;color:#333;font-family:'Liberation Sans', sans-serif;letter-spacing:0.000px;transform:translateX(-50%) scaleX(0.8130);transform-origin:50% 0;">Cod. <b style="color:#24507e">1AJ</b></div>
<div class="t" id="lab20" style="left:233.40px;top:1252.90px;font-size:16.06px;font-weight:700;color:#1a1a1a;font-family:'Liberation Sans', sans-serif;letter-spacing:0.000px;transform:translateX(-50%) scaleX(0.6881);transform-origin:50% 0;">HSK 63 A</div>
<div class="t" id="cod20" style="left:233.40px;top:1273.29px;font-size:16.20px;font-weight:400;color:#333;font-family:'Liberation Sans', sans-serif;letter-spacing:0.000px;transform:translateX(-50%) scaleX(0.8130);transform-origin:50% 0;">Cod. <b style="color:#24507e">1AK</b></div>
<div class="t" id="lab21" style="left:472.00px;top:1252.90px;font-size:16.06px;font-weight:700;color:#1a1a1a;font-family:'Liberation Sans', sans-serif;letter-spacing:0.000px;transform:translateX(-50%) scaleX(0.6881);transform-origin:50% 0;">HSK 63 C</div>
<div class="t" id="cod21" style="left:472.00px;top:1273.29px;font-size:16.20px;font-weight:400;color:#333;font-family:'Liberation Sans', sans-serif;letter-spacing:0.000px;transform:translateX(-50%) scaleX(0.8130);transform-origin:50% 0;">Cod. <b style="color:#24507e">1AL</b></div>
<div class="t" id="lab22" style="left:712.50px;top:1252.90px;font-size:16.06px;font-weight:700;color:#1a1a1a;font-family:'Liberation Sans', sans-serif;letter-spacing:0.000px;transform:translateX(-50%) scaleX(0.6881);transform-origin:50% 0;">HSK 63 E</div>
<div class="t" id="cod22" style="left:712.50px;top:1273.29px;font-size:16.20px;font-weight:400;color:#333;font-family:'Liberation Sans', sans-serif;letter-spacing:0.000px;transform:translateX(-50%) scaleX(0.8130);transform-origin:50% 0;">Cod. <b style="color:#24507e">1AM</b></div>
<div class="t" id="lab23" style="left:952.50px;top:1252.90px;font-size:16.06px;font-weight:700;color:#1a1a1a;font-family:'Liberation Sans', sans-serif;letter-spacing:0.000px;transform:translateX(-50%) scaleX(0.6881);transform-origin:50% 0;">HSK 63 F</div>
<div class="t" id="cod23" style="left:952.50px;top:1273.29px;font-size:16.20px;font-weight:400;color:#333;font-family:'Liberation Sans', sans-serif;letter-spacing:0.000px;transform:translateX(-50%) scaleX(0.8130);transform-origin:50% 0;">Cod. <b style="color:#24507e">1AN</b></div>
<div class="t" id="lab30" style="left:233.40px;top:1520.70px;font-size:16.06px;font-weight:700;color:#1a1a1a;font-family:'Liberation Sans', sans-serif;letter-spacing:0.000px;transform:translateX(-50%) scaleX(0.7377);transform-origin:50% 0;">HSK 80A</div>
<div class="t" id="cod30" style="left:233.40px;top:1541.09px;font-size:16.20px;font-weight:400;color:#333;font-family:'Liberation Sans', sans-serif;letter-spacing:0.000px;transform:translateX(-50%) scaleX(0.8130);transform-origin:50% 0;">Cod. <b style="color:#24507e">1AP</b></div>
<div class="t" id="lab31" style="left:412.80px;top:1520.70px;font-size:16.06px;font-weight:700;color:#1a1a1a;font-family:'Liberation Sans', sans-serif;letter-spacing:0.000px;transform:translateX(-50%) scaleX(0.7692);transform-origin:50% 0;">HSK 100A</div>
<div class="t" id="cod31" style="left:412.80px;top:1541.09px;font-size:16.20px;font-weight:400;color:#333;font-family:'Liberation Sans', sans-serif;letter-spacing:0.000px;transform:translateX(-50%) scaleX(0.8130);transform-origin:50% 0;">Cod. <b style="color:#24507e">1AQ</b></div>
<div class="t" id="lab32" style="left:593.80px;top:1520.70px;font-size:16.06px;font-weight:700;color:#1a1a1a;font-family:'Liberation Sans', sans-serif;letter-spacing:0.000px;transform:translateX(-50%) scaleX(0.7692);transform-origin:50% 0;">HSK 125A</div>
<div class="t" id="cod32" style="left:593.80px;top:1541.09px;font-size:16.20px;font-weight:400;color:#333;font-family:'Liberation Sans', sans-serif;letter-spacing:0.000px;transform:translateX(-50%) scaleX(0.8130);transform-origin:50% 0;">Cod. <b style="color:#24507e">1AR</b></div>
<div class="t" id="lab33" style="left:773.60px;top:1520.70px;font-size:16.06px;font-weight:700;color:#1a1a1a;font-family:'Liberation Sans', sans-serif;letter-spacing:0.000px;transform:translateX(-50%) scaleX(0.7934);transform-origin:50% 0;">HSK 85-WEINIG</div>
<div class="t" id="cod33" style="left:773.60px;top:1541.09px;font-size:16.20px;font-weight:400;color:#333;font-family:'Liberation Sans', sans-serif;letter-spacing:0.000px;transform:translateX(-50%) scaleX(0.8130);transform-origin:50% 0;">Cod. <b style="color:#24507e">1AS</b></div>
<div class="t" id="lab34" style="left:953.00px;top:1520.70px;font-size:16.06px;font-weight:700;color:#1a1a1a;font-family:'Liberation Sans', sans-serif;letter-spacing:0.000px;transform:translateX(-50%) scaleX(0.7831);transform-origin:50% 0;">HSK 85S-SCM</div>
<div class="t" id="cod34" style="left:953.00px;top:1541.09px;font-size:16.20px;font-weight:400;color:#333;font-family:'Liberation Sans', sans-serif;letter-spacing:0.000px;transform:translateX(-50%) scaleX(0.8130);transform-origin:50% 0;">Cod. <b style="color:#24507e">1AT</b></div>
<div class="t" id="th0" style="left:1307.70px;top:507.51px;font-size:19.83px;font-weight:700;color:#fff;font-family:'Liberation Sans', sans-serif;letter-spacing:0.000px;transform:translateX(-50%) scaleX(0.7448);transform-origin:50% 0;">Part code</div>
<div class="t" id="th1" style="left:1491.70px;top:507.51px;font-size:19.83px;font-weight:700;color:#fff;font-family:'Liberation Sans', sans-serif;letter-spacing:0.000px;transform:translateX(-50%) scaleX(0.7448);transform-origin:50% 0;">Description</div>
<div class="t" id="th2" style="left:1642.20px;top:507.51px;font-size:19.83px;font-weight:700;color:#fff;font-family:'Liberation Sans', sans-serif;letter-spacing:0.000px;transform:translateX(-50%) scaleX(0.7448);transform-origin:50% 0;">D</div>
<div class="t" id="th3" style="left:1714.60px;top:507.51px;font-size:19.83px;font-weight:700;color:#fff;font-family:'Liberation Sans', sans-serif;letter-spacing:0.000px;transform:translateX(-50%) scaleX(0.7448);transform-origin:50% 0;">L</div>
<div class="t" id="th4" style="left:1787.40px;top:507.51px;font-size:19.83px;font-weight:700;color:#fff;font-family:'Liberation Sans', sans-serif;letter-spacing:0.000px;transform:translateX(-50%) scaleX(0.7448);transform-origin:50% 0;">CM</div>
<div class="t" id="th5" style="left:1906.90px;top:507.51px;font-size:19.83px;font-weight:700;color:#fff;font-family:'Liberation Sans', sans-serif;letter-spacing:0.000px;transform:translateX(-50%) scaleX(0.7448);transform-origin:50% 0;">Connection</div>
<div class="t" id="th6" style="left:2074.20px;top:507.51px;font-size:19.83px;font-weight:700;color:#fff;font-family:'Liberation Sans', sans-serif;letter-spacing:0.000px;transform:translateX(-50%) scaleX(0.7448);transform-origin:50% 0;">Balancing (RPM)</div>
<div class="t" id="td0_0" style="left:1307.70px;top:553.20px;font-size:16.06px;font-weight:700;color:#24507e;font-family:'Liberation Sans', sans-serif;letter-spacing:0.000px;transform:translateX(-50%) scaleX(0.7939);transform-origin:50% 0;">AY00</div>
<div class="t" id="td0_1" style="left:1491.70px;top:553.80px;font-size:15.36px;font-weight:400;color:#333;font-family:'Liberation Sans', sans-serif;letter-spacing:0.000px;transform:translateX(-50%) scaleX(0.7711);transform-origin:50% 0;">morse cone reduction</div>
<div class="t" id="td0_2" style="left:1642.20px;top:553.80px;font-size:15.36px;font-weight:400;color:#333;font-family:'Liberation Sans', sans-serif;letter-spacing:0.000px;transform:translateX(-50%) scaleX(0.7711);transform-origin:50% 0;">35</div>
<div class="t" id="td0_3" style="left:1714.60px;top:553.80px;font-size:15.36px;font-weight:400;color:#333;font-family:'Liberation Sans', sans-serif;letter-spacing:0.000px;transform:translateX(-50%) scaleX(0.7711);transform-origin:50% 0;">110</div>
<div class="t" id="td0_4" style="left:1787.40px;top:553.80px;font-size:15.36px;font-weight:400;color:#333;font-family:'Liberation Sans', sans-serif;letter-spacing:0.000px;transform:translateX(-50%) scaleX(0.7711);transform-origin:50% 0;">1P+F</div>
<div class="t" id="td0_5" style="left:1906.90px;top:553.20px;font-size:16.06px;font-weight:700;color:#151515;font-family:'Liberation Sans', sans-serif;letter-spacing:0.000px;transform:translateX(-50%) scaleX(0.7185);transform-origin:50% 0;">HSK 40 A-E</div>
<div class="t" id="td0_6" style="left:2074.20px;top:553.80px;font-size:15.36px;font-weight:400;color:#333;font-family:'Liberation Sans', sans-serif;letter-spacing:0.000px;transform:translateX(-50%) scaleX(0.7711);transform-origin:50% 0;">24.000</div>
<div class="t" id="td1_0" style="left:1307.70px;top:598.35px;font-size:16.06px;font-weight:700;color:#24507e;font-family:'Liberation Sans', sans-serif;letter-spacing:0.000px;transform:translateX(-50%) scaleX(0.7939);transform-origin:50% 0;">AY01</div>
<div class="t" id="td1_1" style="left:1491.70px;top:598.95px;font-size:15.36px;font-weight:400;color:#333;font-family:'Liberation Sans', sans-serif;letter-spacing:0.000px;transform:translateX(-50%) scaleX(0.7711);transform-origin:50% 0;">morse cone reduction</div>
<div class="t" id="td1_2" style="left:1642.20px;top:598.95px;font-size:15.36px;font-weight:400;color:#333;font-family:'Liberation Sans', sans-serif;letter-spacing:0.000px;transform:translateX(-50%) scaleX(0.7711);transform-origin:50% 0;">35</div>
<div class="t" id="td1_3" style="left:1714.60px;top:598.95px;font-size:15.36px;font-weight:400;color:#333;font-family:'Liberation Sans', sans-serif;letter-spacing:0.000px;transform:translateX(-50%) scaleX(0.7711);transform-origin:50% 0;">110</div>
<div class="t" id="td1_4" style="left:1787.40px;top:598.95px;font-size:15.36px;font-weight:400;color:#333;font-family:'Liberation Sans', sans-serif;letter-spacing:0.000px;transform:translateX(-50%) scaleX(0.7711);transform-origin:50% 0;">2P+F</div>
<div class="t" id="td1_5" style="left:1906.90px;top:598.35px;font-size:16.06px;font-weight:700;color:#151515;font-family:'Liberation Sans', sans-serif;letter-spacing:0.000px;transform:translateX(-50%) scaleX(0.7185);transform-origin:50% 0;">HSK 40 A-E</div>
<div class="t" id="td1_6" style="left:2074.20px;top:598.95px;font-size:15.36px;font-weight:400;color:#333;font-family:'Liberation Sans', sans-serif;letter-spacing:0.000px;transform:translateX(-50%) scaleX(0.7711);transform-origin:50% 0;">24.000</div>
<div class="t" id="td2_0" style="left:1307.70px;top:643.50px;font-size:16.06px;font-weight:700;color:#24507e;font-family:'Liberation Sans', sans-serif;letter-spacing:0.000px;transform:translateX(-50%) scaleX(0.7939);transform-origin:50% 0;">AY02</div>
<div class="t" id="td2_1" style="left:1491.70px;top:644.10px;font-size:15.36px;font-weight:400;color:#333;font-family:'Liberation Sans', sans-serif;letter-spacing:0.000px;transform:translateX(-50%) scaleX(0.7711);transform-origin:50% 0;">morse cone reduction</div>
<div class="t" id="td2_2" style="left:1642.20px;top:644.10px;font-size:15.36px;font-weight:400;color:#333;font-family:'Liberation Sans', sans-serif;letter-spacing:0.000px;transform:translateX(-50%) scaleX(0.7711);transform-origin:50% 0;">35</div>
<div class="t" id="td2_3" style="left:1714.60px;top:644.10px;font-size:15.36px;font-weight:400;color:#333;font-family:'Liberation Sans', sans-serif;letter-spacing:0.000px;transform:translateX(-50%) scaleX(0.7711);transform-origin:50% 0;">90</div>
<div class="t" id="td2_4" style="left:1787.40px;top:644.10px;font-size:15.36px;font-weight:400;color:#333;font-family:'Liberation Sans', sans-serif;letter-spacing:0.000px;transform:translateX(-50%) scaleX(0.7711);transform-origin:50% 0;">1P+F</div>
<div class="t" id="td2_5" style="left:1906.90px;top:643.50px;font-size:16.06px;font-weight:700;color:#151515;font-family:'Liberation Sans', sans-serif;letter-spacing:0.000px;transform:translateX(-50%) scaleX(0.7185);transform-origin:50% 0;">HSK 50 A-F</div>
<div class="t" id="td2_6" style="left:2074.20px;top:644.10px;font-size:15.36px;font-weight:400;color:#333;font-family:'Liberation Sans', sans-serif;letter-spacing:0.000px;transform:translateX(-50%) scaleX(0.7711);transform-origin:50% 0;">24.000</div>
<div class="t" id="td3_0" style="left:1307.70px;top:688.65px;font-size:16.06px;font-weight:700;color:#24507e;font-family:'Liberation Sans', sans-serif;letter-spacing:0.000px;transform:translateX(-50%) scaleX(0.7939);transform-origin:50% 0;">AY01</div>
<div class="t" id="td3_1" style="left:1491.70px;top:689.25px;font-size:15.36px;font-weight:400;color:#333;font-family:'Liberation Sans', sans-serif;letter-spacing:0.000px;transform:translateX(-50%) scaleX(0.7711);transform-origin:50% 0;">morse cone reduction</div>
<div class="t" id="td3_2" style="left:1642.20px;top:689.25px;font-size:15.36px;font-weight:400;color:#333;font-family:'Liberation Sans', sans-serif;letter-spacing:0.000px;transform:translateX(-50%) scaleX(0.7711);transform-origin:50% 0;">35</div>
<div class="t" id="td3_3" style="left:1714.60px;top:689.25px;font-size:15.36px;font-weight:400;color:#333;font-family:'Liberation Sans', sans-serif;letter-spacing:0.000px;transform:translateX(-50%) scaleX(0.7711);transform-origin:50% 0;">110</div>
<div class="t" id="td3_4" style="left:1787.40px;top:689.25px;font-size:15.36px;font-weight:400;color:#333;font-family:'Liberation Sans', sans-serif;letter-spacing:0.000px;transform:translateX(-50%) scaleX(0.7711);transform-origin:50% 0;">2P+F</div>
<div class="t" id="td3_5" style="left:1906.90px;top:688.65px;font-size:16.06px;font-weight:700;color:#151515;font-family:'Liberation Sans', sans-serif;letter-spacing:0.000px;transform:translateX(-50%) scaleX(0.7185);transform-origin:50% 0;">HSK 63 A-E-F</div>
<div class="t" id="td3_6" style="left:2074.20px;top:689.25px;font-size:15.36px;font-weight:400;color:#333;font-family:'Liberation Sans', sans-serif;letter-spacing:0.000px;transform:translateX(-50%) scaleX(0.7711);transform-origin:50% 0;">24.000</div>
<div class="t" id="td4_0" style="left:1307.70px;top:733.80px;font-size:16.06px;font-weight:700;color:#24507e;font-family:'Liberation Sans', sans-serif;letter-spacing:0.000px;transform:translateX(-50%) scaleX(0.7939);transform-origin:50% 0;">AY01</div>
<div class="t" id="td4_1" style="left:1491.70px;top:734.40px;font-size:15.36px;font-weight:400;color:#333;font-family:'Liberation Sans', sans-serif;letter-spacing:0.000px;transform:translateX(-50%) scaleX(0.7711);transform-origin:50% 0;">morse cone reduction</div>
<div class="t" id="td4_2" style="left:1642.20px;top:734.40px;font-size:15.36px;font-weight:400;color:#333;font-family:'Liberation Sans', sans-serif;letter-spacing:0.000px;transform:translateX(-50%) scaleX(0.7711);transform-origin:50% 0;">35</div>
<div class="t" id="td4_3" style="left:1714.60px;top:734.40px;font-size:15.36px;font-weight:400;color:#333;font-family:'Liberation Sans', sans-serif;letter-spacing:0.000px;transform:translateX(-50%) scaleX(0.7711);transform-origin:50% 0;">110</div>
<div class="t" id="td4_4" style="left:1787.40px;top:734.40px;font-size:15.36px;font-weight:400;color:#333;font-family:'Liberation Sans', sans-serif;letter-spacing:0.000px;transform:translateX(-50%) scaleX(0.7711);transform-origin:50% 0;">2P+F</div>
<div class="t" id="td4_5" style="left:1906.90px;top:733.80px;font-size:16.06px;font-weight:700;color:#151515;font-family:'Liberation Sans', sans-serif;letter-spacing:0.000px;transform:translateX(-50%) scaleX(0.7185);transform-origin:50% 0;">HSK 50 A-F</div>
<div class="t" id="td4_6" style="left:2074.20px;top:734.40px;font-size:15.36px;font-weight:400;color:#333;font-family:'Liberation Sans', sans-serif;letter-spacing:0.000px;transform:translateX(-50%) scaleX(0.7711);transform-origin:50% 0;">24.000</div>
<div class="t" id="td5_0" style="left:1307.70px;top:778.95px;font-size:16.06px;font-weight:700;color:#24507e;font-family:'Liberation Sans', sans-serif;letter-spacing:0.000px;transform:translateX(-50%) scaleX(0.7939);transform-origin:50% 0;">AY03</div>
<div class="t" id="td5_1" style="left:1491.70px;top:779.55px;font-size:15.36px;font-weight:400;color:#333;font-family:'Liberation Sans', sans-serif;letter-spacing:0.000px;transform:translateX(-50%) scaleX(0.7711);transform-origin:50% 0;">morse cone reduction</div>
<div class="t" id="td5_2" style="left:1642.20px;top:779.55px;font-size:15.36px;font-weight:400;color:#333;font-family:'Liberation Sans', sans-serif;letter-spacing:0.000px;transform:translateX(-50%) scaleX(0.7711);transform-origin:50% 0;">42</div>
<div class="t" id="td5_3" style="left:1714.60px;top:779.55px;font-size:15.36px;font-weight:400;color:#333;font-family:'Liberation Sans', sans-serif;letter-spacing:0.000px;transform:translateX(-50%) scaleX(0.7711);transform-origin:50% 0;">140</div>
<div class="t" id="td5_4" style="left:1787.40px;top:779.55px;font-size:15.36px;font-weight:400;color:#333;font-family:'Liberation Sans', sans-serif;letter-spacing:0.000px;transform:translateX(-50%) scaleX(0.7711);transform-origin:50% 0;">3P+F</div>
<div class="t" id="td5_5" style="left:1906.90px;top:778.95px;font-size:16.06px;font-weight:700;color:#151515;font-family:'Liberation Sans', sans-serif;letter-spacing:0.000px;transform:translateX(-50%) scaleX(0.7185);transform-origin:50% 0;">HSK 80 A</div>
<div class="t" id="td5_6" style="left:2074.20px;top:779.55px;font-size:15.36px;font-weight:400;color:#333;font-family:'Liberation Sans', sans-serif;letter-spacing:0.000px;transform:translateX(-50%) scaleX(0.7711);transform-origin:50% 0;">24.000</div>
<div class="t" id="td6_0" style="left:1307.70px;top:824.10px;font-size:16.06px;font-weight:700;color:#24507e;font-family:'Liberation Sans', sans-serif;letter-spacing:0.000px;transform:translateX(-50%) scaleX(0.7939);transform-origin:50% 0;">AY03</div>
<div class="t" id="td6_1" style="left:1491.70px;top:824.70px;font-size:15.36px;font-weight:400;color:#333;font-family:'Liberation Sans', sans-serif;letter-spacing:0.000px;transform:translateX(-50%) scaleX(0.7711);transform-origin:50% 0;">morse cone reduction</div>
<div class="t" id="td6_2" style="left:1642.20px;top:824.70px;font-size:15.36px;font-weight:400;color:#333;font-family:'Liberation Sans', sans-serif;letter-spacing:0.000px;transform:translateX(-50%) scaleX(0.7711);transform-origin:50% 0;">42</div>
<div class="t" id="td6_3" style="left:1714.60px;top:824.70px;font-size:15.36px;font-weight:400;color:#333;font-family:'Liberation Sans', sans-serif;letter-spacing:0.000px;transform:translateX(-50%) scaleX(0.7711);transform-origin:50% 0;">140</div>
<div class="t" id="td6_4" style="left:1787.40px;top:824.70px;font-size:15.36px;font-weight:400;color:#333;font-family:'Liberation Sans', sans-serif;letter-spacing:0.000px;transform:translateX(-50%) scaleX(0.7711);transform-origin:50% 0;">3P+F</div>
<div class="t" id="td6_5" style="left:1906.90px;top:824.10px;font-size:16.06px;font-weight:700;color:#151515;font-family:'Liberation Sans', sans-serif;letter-spacing:0.000px;transform:translateX(-50%) scaleX(0.7185);transform-origin:50% 0;">HSK 100 A</div>
<div class="t" id="td6_6" style="left:2074.20px;top:824.70px;font-size:15.36px;font-weight:400;color:#333;font-family:'Liberation Sans', sans-serif;letter-spacing:0.000px;transform:translateX(-50%) scaleX(0.7711);transform-origin:50% 0;">18.000</div>
<div class="t" id="td7_0" style="left:1307.70px;top:869.25px;font-size:16.06px;font-weight:700;color:#24507e;font-family:'Liberation Sans', sans-serif;letter-spacing:0.000px;transform:translateX(-50%) scaleX(0.7939);transform-origin:50% 0;">AY04</div>
<div class="t" id="td7_1" style="left:1491.70px;top:869.85px;font-size:15.36px;font-weight:400;color:#333;font-family:'Liberation Sans', sans-serif;letter-spacing:0.000px;transform:translateX(-50%) scaleX(0.7711);transform-origin:50% 0;">morse cone reduction</div>
<div class="t" id="td7_2" style="left:1642.20px;top:869.85px;font-size:15.36px;font-weight:400;color:#333;font-family:'Liberation Sans', sans-serif;letter-spacing:0.000px;transform:translateX(-50%) scaleX(0.7711);transform-origin:50% 0;">42</div>
<div class="t" id="td7_3" style="left:1714.60px;top:869.85px;font-size:15.36px;font-weight:400;color:#333;font-family:'Liberation Sans', sans-serif;letter-spacing:0.000px;transform:translateX(-50%) scaleX(0.7711);transform-origin:50% 0;">160</div>
<div class="t" id="td7_4" style="left:1787.40px;top:869.85px;font-size:15.36px;font-weight:400;color:#333;font-family:'Liberation Sans', sans-serif;letter-spacing:0.000px;transform:translateX(-50%) scaleX(0.7711);transform-origin:50% 0;">3P+F</div>
<div class="t" id="td7_5" style="left:1906.90px;top:869.25px;font-size:16.06px;font-weight:700;color:#151515;font-family:'Liberation Sans', sans-serif;letter-spacing:0.000px;transform:translateX(-50%) scaleX(0.7185);transform-origin:50% 0;">HSK 63 A-E-F</div>
<div class="t" id="td7_6" style="left:2074.20px;top:869.85px;font-size:15.36px;font-weight:400;color:#333;font-family:'Liberation Sans', sans-serif;letter-spacing:0.000px;transform:translateX(-50%) scaleX(0.7711);transform-origin:50% 0;">24.000</div>
<div class="t" id="td8_0" style="left:1307.70px;top:914.40px;font-size:16.06px;font-weight:700;color:#24507e;font-family:'Liberation Sans', sans-serif;letter-spacing:0.000px;transform:translateX(-50%) scaleX(0.7939);transform-origin:50% 0;">AY05</div>
<div class="t" id="td8_1" style="left:1491.70px;top:915.00px;font-size:15.36px;font-weight:400;color:#333;font-family:'Liberation Sans', sans-serif;letter-spacing:0.000px;transform:translateX(-50%) scaleX(0.7711);transform-origin:50% 0;">morse cone reduction</div>
<div class="t" id="td8_2" style="left:1642.20px;top:915.00px;font-size:15.36px;font-weight:400;color:#333;font-family:'Liberation Sans', sans-serif;letter-spacing:0.000px;transform:translateX(-50%) scaleX(0.7711);transform-origin:50% 0;">52</div>
<div class="t" id="td8_3" style="left:1714.60px;top:915.00px;font-size:15.36px;font-weight:400;color:#333;font-family:'Liberation Sans', sans-serif;letter-spacing:0.000px;transform:translateX(-50%) scaleX(0.7711);transform-origin:50% 0;">160</div>
<div class="t" id="td8_4" style="left:1787.40px;top:915.00px;font-size:15.36px;font-weight:400;color:#333;font-family:'Liberation Sans', sans-serif;letter-spacing:0.000px;transform:translateX(-50%) scaleX(0.7711);transform-origin:50% 0;">4P+F</div>
<div class="t" id="td8_5" style="left:1906.90px;top:914.40px;font-size:16.06px;font-weight:700;color:#151515;font-family:'Liberation Sans', sans-serif;letter-spacing:0.000px;transform:translateX(-50%) scaleX(0.7185);transform-origin:50% 0;">HSK 80 A</div>
<div class="t" id="td8_6" style="left:2074.20px;top:915.00px;font-size:15.36px;font-weight:400;color:#333;font-family:'Liberation Sans', sans-serif;letter-spacing:0.000px;transform:translateX(-50%) scaleX(0.7711);transform-origin:50% 0;">24.000</div>
<div class="t" id="td9_0" style="left:1307.70px;top:959.55px;font-size:16.06px;font-weight:700;color:#24507e;font-family:'Liberation Sans', sans-serif;letter-spacing:0.000px;transform:translateX(-50%) scaleX(0.7939);transform-origin:50% 0;">AY05</div>
<div class="t" id="td9_1" style="left:1491.70px;top:960.15px;font-size:15.36px;font-weight:400;color:#333;font-family:'Liberation Sans', sans-serif;letter-spacing:0.000px;transform:translateX(-50%) scaleX(0.7711);transform-origin:50% 0;">morse cone reduction</div>
<div class="t" id="td9_2" style="left:1642.20px;top:960.15px;font-size:15.36px;font-weight:400;color:#333;font-family:'Liberation Sans', sans-serif;letter-spacing:0.000px;transform:translateX(-50%) scaleX(0.7711);transform-origin:50% 0;">52</div>
<div class="t" id="td9_3" style="left:1714.60px;top:960.15px;font-size:15.36px;font-weight:400;color:#333;font-family:'Liberation Sans', sans-serif;letter-spacing:0.000px;transform:translateX(-50%) scaleX(0.7711);transform-origin:50% 0;">160</div>
<div class="t" id="td9_4" style="left:1787.40px;top:960.15px;font-size:15.36px;font-weight:400;color:#333;font-family:'Liberation Sans', sans-serif;letter-spacing:0.000px;transform:translateX(-50%) scaleX(0.7711);transform-origin:50% 0;">4P+F</div>
<div class="t" id="td9_5" style="left:1906.90px;top:959.55px;font-size:16.06px;font-weight:700;color:#151515;font-family:'Liberation Sans', sans-serif;letter-spacing:0.000px;transform:translateX(-50%) scaleX(0.7185);transform-origin:50% 0;">HSK 100 A</div>
<div class="t" id="td9_6" style="left:2074.20px;top:960.15px;font-size:15.36px;font-weight:400;color:#333;font-family:'Liberation Sans', sans-serif;letter-spacing:0.000px;transform:translateX(-50%) scaleX(0.7711);transform-origin:50% 0;">18.000</div>
<div class="t" id="td10_0" style="left:1307.70px;top:1004.70px;font-size:16.06px;font-weight:700;color:#24507e;font-family:'Liberation Sans', sans-serif;letter-spacing:0.000px;transform:translateX(-50%) scaleX(0.7939);transform-origin:50% 0;">AY06</div>
<div class="t" id="td10_1" style="left:1491.70px;top:1005.30px;font-size:15.36px;font-weight:400;color:#333;font-family:'Liberation Sans', sans-serif;letter-spacing:0.000px;transform:translateX(-50%) scaleX(0.7711);transform-origin:50% 0;">morse cone reduction</div>
<div class="t" id="td10_2" style="left:1642.20px;top:1005.30px;font-size:15.36px;font-weight:400;color:#333;font-family:'Liberation Sans', sans-serif;letter-spacing:0.000px;transform:translateX(-50%) scaleX(0.7711);transform-origin:50% 0;">70</div>
<div class="t" id="td10_3" style="left:1714.60px;top:1005.30px;font-size:15.36px;font-weight:400;color:#333;font-family:'Liberation Sans', sans-serif;letter-spacing:0.000px;transform:translateX(-50%) scaleX(0.7711);transform-origin:50% 0;">200</div>
<div class="t" id="td10_4" style="left:1787.40px;top:1005.30px;font-size:15.36px;font-weight:400;color:#333;font-family:'Liberation Sans', sans-serif;letter-spacing:0.000px;transform:translateX(-50%) scaleX(0.7711);transform-origin:50% 0;">5P+F</div>
<div class="t" id="td10_5" style="left:1906.90px;top:1004.70px;font-size:16.06px;font-weight:700;color:#151515;font-family:'Liberation Sans', sans-serif;letter-spacing:0.000px;transform:translateX(-50%) scaleX(0.7185);transform-origin:50% 0;">HSK 100 A</div>
<div class="t" id="td10_6" style="left:2074.20px;top:1005.30px;font-size:15.36px;font-weight:400;color:#333;font-family:'Liberation Sans', sans-serif;letter-spacing:0.000px;transform:translateX(-50%) scaleX(0.7711);transform-origin:50% 0;">18.000</div>
<div class="t" id="td11_0" style="left:1307.70px;top:1049.85px;font-size:16.06px;font-weight:700;color:#24507e;font-family:'Liberation Sans', sans-serif;letter-spacing:0.000px;transform:translateX(-50%) scaleX(0.7939);transform-origin:50% 0;">AY06</div>
<div class="t" id="td11_1" style="left:1491.70px;top:1050.45px;font-size:15.36px;font-weight:400;color:#333;font-family:'Liberation Sans', sans-serif;letter-spacing:0.000px;transform:translateX(-50%) scaleX(0.7711);transform-origin:50% 0;">morse cone reduction</div>
<div class="t" id="td11_2" style="left:1642.20px;top:1050.45px;font-size:15.36px;font-weight:400;color:#333;font-family:'Liberation Sans', sans-serif;letter-spacing:0.000px;transform:translateX(-50%) scaleX(0.7711);transform-origin:50% 0;">70</div>
<div class="t" id="td11_3" style="left:1714.60px;top:1050.45px;font-size:15.36px;font-weight:400;color:#333;font-family:'Liberation Sans', sans-serif;letter-spacing:0.000px;transform:translateX(-50%) scaleX(0.7711);transform-origin:50% 0;">200</div>
<div class="t" id="td11_4" style="left:1787.40px;top:1050.45px;font-size:15.36px;font-weight:400;color:#333;font-family:'Liberation Sans', sans-serif;letter-spacing:0.000px;transform:translateX(-50%) scaleX(0.7711);transform-origin:50% 0;">5P+F</div>
<div class="t" id="td11_5" style="left:1906.90px;top:1049.85px;font-size:16.06px;font-weight:700;color:#151515;font-family:'Liberation Sans', sans-serif;letter-spacing:0.000px;transform:translateX(-50%) scaleX(0.7185);transform-origin:50% 0;">HSK 125 A</div>
<div class="t" id="td11_6" style="left:2074.20px;top:1050.45px;font-size:15.36px;font-weight:400;color:#333;font-family:'Liberation Sans', sans-serif;letter-spacing:0.000px;transform:translateX(-50%) scaleX(0.7711);transform-origin:50% 0;">18.000</div>
</body></html>
